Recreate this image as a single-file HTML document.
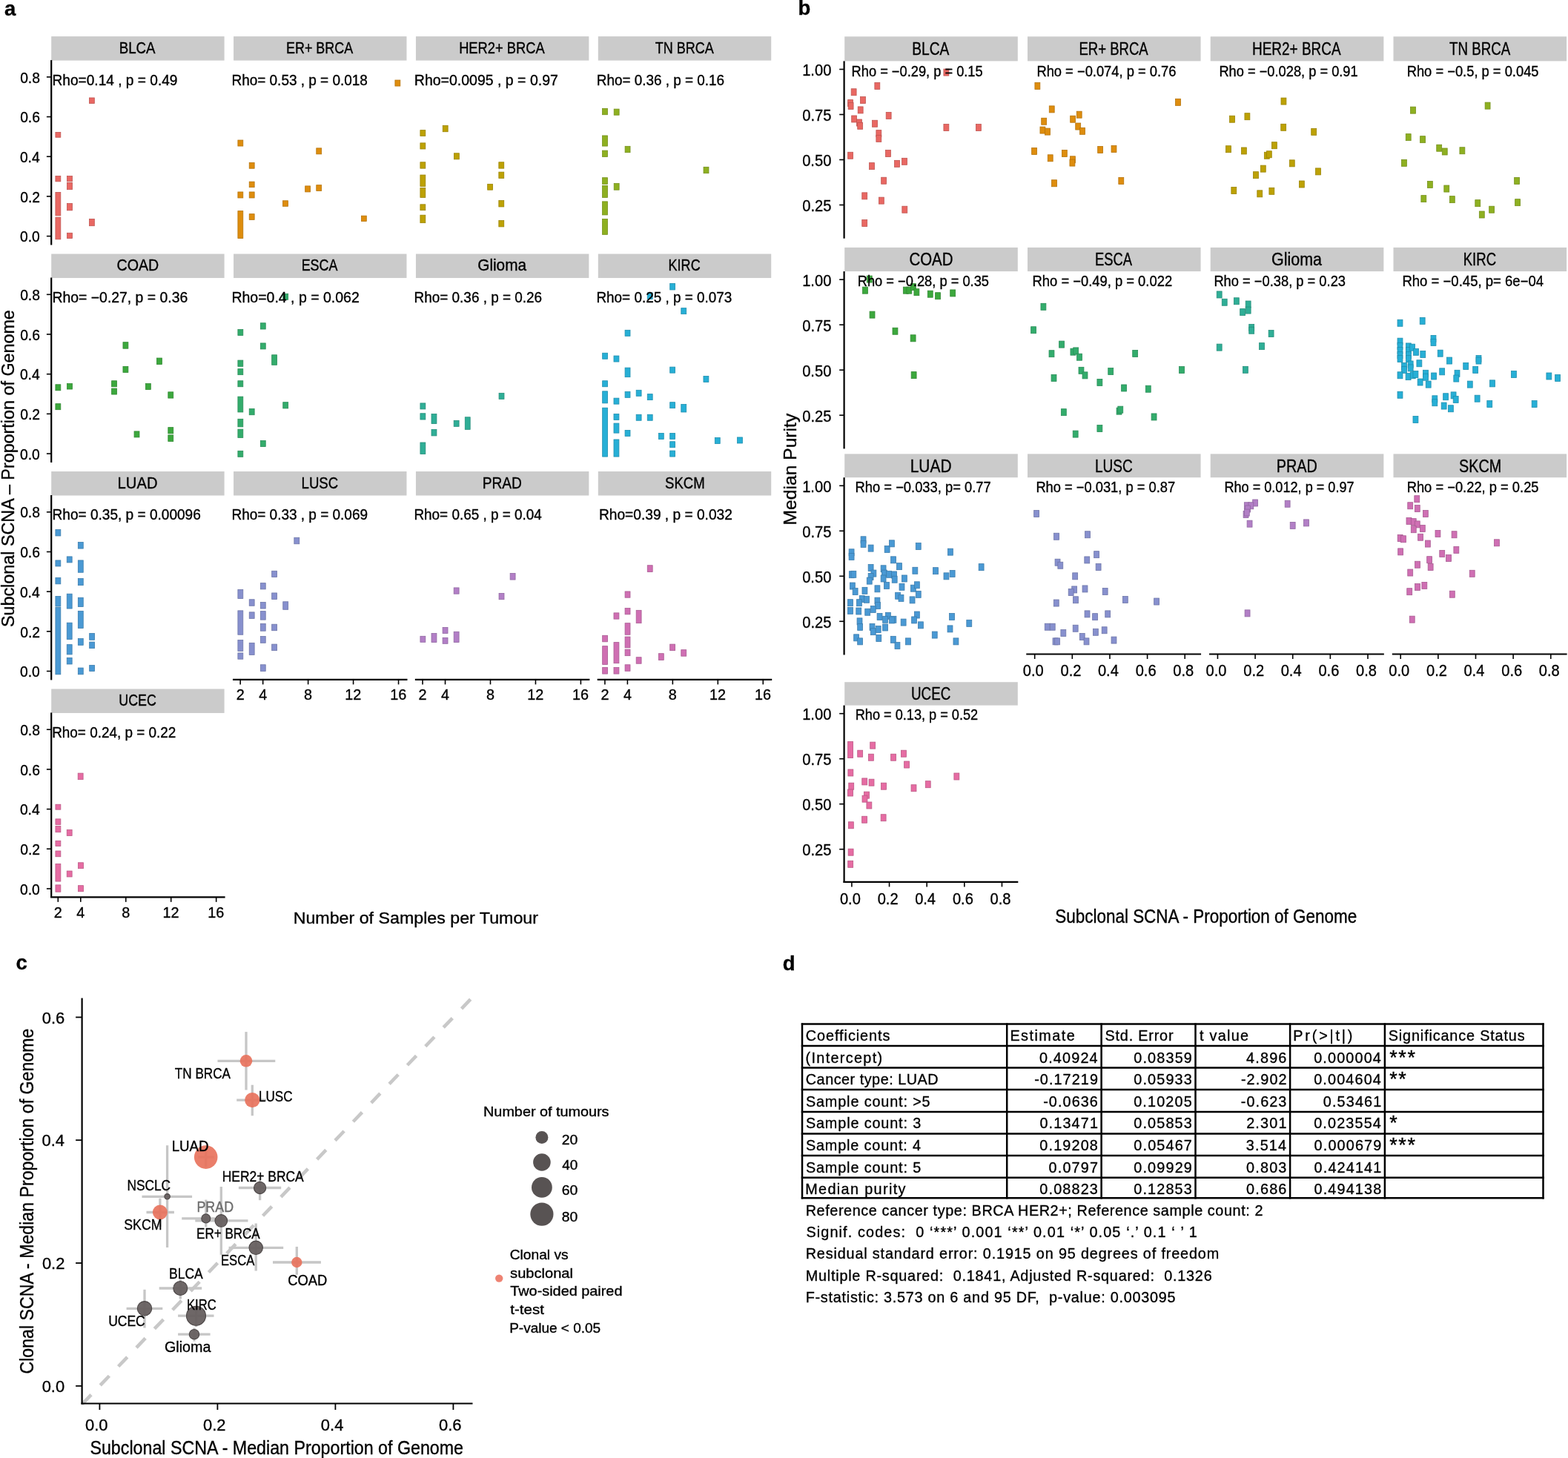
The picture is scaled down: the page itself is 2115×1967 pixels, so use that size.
<!DOCTYPE html>
<html><head><meta charset="utf-8"><title>Figure</title>
<style>
html,body{margin:0;padding:0;background:#fff;}
svg{display:block;}
text{font-family:'Liberation Sans', Arial, sans-serif;stroke:#000;stroke-width:0.35px;}
text[fill]{stroke:#6E6E6E;}
</style></head>
<body>
<svg width="2115" height="1967" viewBox="0 0 2115 1967" style="font-family:'Liberation Sans', Arial, sans-serif">
<rect x="0" y="0" width="2115" height="1967" fill="#fff"/>
<text x="5.99" y="20.80" font-size="27.5" font-weight="bold">a</text>
<text x="1076.39" y="20.10" font-size="27.5" font-weight="bold">b</text>
<text x="21.53" y="1307.70" font-size="27.5" font-weight="bold">c</text>
<text x="1055.77" y="1308.90" font-size="27.5" font-weight="bold">d</text>
<rect x="69.20" y="49.10" width="233.40" height="32.50" fill="#CBCBCB"/>
<text x="160.72" y="72.00" font-size="21.4" textLength="48.87" lengthAdjust="spacingAndGlyphs">BLCA</text>
<rect x="74.91" y="178.49" width="6.90" height="6.75" fill="#E96863" stroke="#BF5551" stroke-width="0.8"/>
<rect x="74.91" y="237.59" width="6.90" height="7.25" fill="#E96863" stroke="#BF5551" stroke-width="0.8"/>
<rect x="74.91" y="259.47" width="6.90" height="31.39" fill="#E96863" stroke="#BF5551" stroke-width="0.8"/>
<rect x="74.91" y="293.18" width="6.90" height="29.63" fill="#E96863" stroke="#BF5551" stroke-width="0.8"/>
<rect x="90.50" y="237.59" width="6.90" height="7.25" fill="#E96863" stroke="#BF5551" stroke-width="0.8"/>
<rect x="90.50" y="246.40" width="6.90" height="9.26" fill="#E96863" stroke="#BF5551" stroke-width="0.8"/>
<rect x="90.50" y="274.56" width="6.90" height="9.26" fill="#E96863" stroke="#BF5551" stroke-width="0.8"/>
<rect x="90.50" y="314.30" width="6.90" height="7.25" fill="#E96863" stroke="#BF5551" stroke-width="0.8"/>
<rect x="120.43" y="131.96" width="6.90" height="7.50" fill="#E96863" stroke="#BF5551" stroke-width="0.8"/>
<rect x="120.43" y="295.44" width="6.90" height="9.26" fill="#E96863" stroke="#BF5551" stroke-width="0.8"/>
<text x="70.53" y="114.50" font-size="19.4" textLength="168.97" lengthAdjust="spacingAndGlyphs">Rho=0.14 , p = 0.49</text>
<line x1="69.20" y1="81.10" x2="69.20" y2="330.50" stroke="#000" stroke-width="2.2"/>
<line x1="62.90" y1="318.60" x2="69.20" y2="318.60" stroke="#000" stroke-width="1.6"/>
<text x="27.06" y="326.30" font-size="20.5" textLength="26.79" lengthAdjust="spacingAndGlyphs">0.0</text>
<line x1="62.90" y1="264.92" x2="69.20" y2="264.92" stroke="#000" stroke-width="1.6"/>
<text x="27.28" y="272.62" font-size="20.5" textLength="26.79" lengthAdjust="spacingAndGlyphs">0.2</text>
<line x1="62.90" y1="211.24" x2="69.20" y2="211.24" stroke="#000" stroke-width="1.6"/>
<text x="26.88" y="218.94" font-size="20.5" textLength="26.79" lengthAdjust="spacingAndGlyphs">0.4</text>
<line x1="62.90" y1="157.56" x2="69.20" y2="157.56" stroke="#000" stroke-width="1.6"/>
<text x="27.16" y="165.26" font-size="20.5" textLength="26.79" lengthAdjust="spacingAndGlyphs">0.6</text>
<line x1="62.90" y1="103.88" x2="69.20" y2="103.88" stroke="#000" stroke-width="1.6"/>
<text x="27.15" y="111.58" font-size="20.5" textLength="26.79" lengthAdjust="spacingAndGlyphs">0.8</text>
<rect x="315.07" y="49.10" width="233.40" height="32.50" fill="#CBCBCB"/>
<text x="386.00" y="72.00" font-size="21.4" textLength="90.10" lengthAdjust="spacingAndGlyphs">ER+ BRCA</text>
<rect x="320.89" y="189.05" width="6.90" height="8.00" fill="#DE8D0E" stroke="#B6730B" stroke-width="0.8"/>
<rect x="320.89" y="258.97" width="6.90" height="8.00" fill="#DE8D0E" stroke="#B6730B" stroke-width="0.8"/>
<rect x="320.89" y="284.63" width="6.90" height="36.93" fill="#DE8D0E" stroke="#B6730B" stroke-width="0.8"/>
<rect x="336.23" y="219.48" width="6.90" height="7.75" fill="#DE8D0E" stroke="#B6730B" stroke-width="0.8"/>
<rect x="336.23" y="245.14" width="6.90" height="7.50" fill="#DE8D0E" stroke="#B6730B" stroke-width="0.8"/>
<rect x="336.23" y="258.97" width="6.90" height="8.00" fill="#DE8D0E" stroke="#B6730B" stroke-width="0.8"/>
<rect x="336.23" y="288.65" width="6.90" height="7.75" fill="#DE8D0E" stroke="#B6730B" stroke-width="0.8"/>
<rect x="381.50" y="270.79" width="6.90" height="7.50" fill="#DE8D0E" stroke="#B6730B" stroke-width="0.8"/>
<rect x="411.68" y="250.92" width="6.90" height="8.00" fill="#DE8D0E" stroke="#B6730B" stroke-width="0.8"/>
<rect x="426.77" y="199.87" width="6.90" height="8.00" fill="#DE8D0E" stroke="#B6730B" stroke-width="0.8"/>
<rect x="426.77" y="249.67" width="6.90" height="7.75" fill="#DE8D0E" stroke="#B6730B" stroke-width="0.8"/>
<rect x="487.39" y="291.16" width="6.90" height="7.25" fill="#DE8D0E" stroke="#B6730B" stroke-width="0.8"/>
<rect x="532.91" y="108.07" width="6.90" height="8.00" fill="#DE8D0E" stroke="#B6730B" stroke-width="0.8"/>
<text x="312.44" y="114.50" font-size="19.4" textLength="183.48" lengthAdjust="spacingAndGlyphs">Rho= 0.53 , p = 0.018</text>
<rect x="560.94" y="49.10" width="233.40" height="32.50" fill="#CBCBCB"/>
<text x="619.14" y="72.00" font-size="21.4" textLength="115.54" lengthAdjust="spacingAndGlyphs">HER2+ BRCA</text>
<rect x="566.89" y="175.63" width="6.90" height="7.83" fill="#BDA105" stroke="#9A8404" stroke-width="0.8"/>
<rect x="566.89" y="192.90" width="6.90" height="8.09" fill="#BDA105" stroke="#9A8404" stroke-width="0.8"/>
<rect x="566.89" y="218.79" width="6.90" height="8.36" fill="#BDA105" stroke="#9A8404" stroke-width="0.8"/>
<rect x="566.89" y="236.06" width="6.90" height="15.42" fill="#BDA105" stroke="#9A8404" stroke-width="0.8"/>
<rect x="566.89" y="253.58" width="6.90" height="12.80" fill="#BDA105" stroke="#9A8404" stroke-width="0.8"/>
<rect x="566.89" y="275.82" width="6.90" height="7.83" fill="#BDA105" stroke="#9A8404" stroke-width="0.8"/>
<rect x="566.89" y="290.20" width="6.90" height="10.45" fill="#BDA105" stroke="#9A8404" stroke-width="0.8"/>
<rect x="597.24" y="169.36" width="6.90" height="8.36" fill="#BDA105" stroke="#9A8404" stroke-width="0.8"/>
<rect x="612.41" y="206.76" width="6.90" height="8.09" fill="#BDA105" stroke="#9A8404" stroke-width="0.8"/>
<rect x="657.66" y="248.35" width="6.90" height="7.83" fill="#BDA105" stroke="#9A8404" stroke-width="0.8"/>
<rect x="672.83" y="218.79" width="6.90" height="8.36" fill="#BDA105" stroke="#9A8404" stroke-width="0.8"/>
<rect x="672.83" y="232.13" width="6.90" height="8.36" fill="#BDA105" stroke="#9A8404" stroke-width="0.8"/>
<rect x="672.83" y="270.59" width="6.90" height="8.36" fill="#BDA105" stroke="#9A8404" stroke-width="0.8"/>
<rect x="672.83" y="297.53" width="6.90" height="8.36" fill="#BDA105" stroke="#9A8404" stroke-width="0.8"/>
<text x="558.84" y="114.50" font-size="19.4" textLength="194.01" lengthAdjust="spacingAndGlyphs">Rho=0.0095  , p = 0.97</text>
<rect x="806.81" y="49.10" width="233.40" height="32.50" fill="#CBCBCB"/>
<text x="883.76" y="72.00" font-size="21.4" textLength="79.14" lengthAdjust="spacingAndGlyphs">TN BRCA</text>
<rect x="812.51" y="146.34" width="6.90" height="8.36" fill="#8EB021" stroke="#74901B" stroke-width="0.8"/>
<rect x="812.51" y="182.96" width="6.90" height="14.11" fill="#8EB021" stroke="#74901B" stroke-width="0.8"/>
<rect x="812.51" y="203.10" width="6.90" height="8.36" fill="#8EB021" stroke="#74901B" stroke-width="0.8"/>
<rect x="812.51" y="239.72" width="6.90" height="8.62" fill="#8EB021" stroke="#74901B" stroke-width="0.8"/>
<rect x="812.51" y="250.44" width="6.90" height="15.94" fill="#8EB021" stroke="#74901B" stroke-width="0.8"/>
<rect x="812.51" y="271.89" width="6.90" height="18.03" fill="#8EB021" stroke="#74901B" stroke-width="0.8"/>
<rect x="812.51" y="295.44" width="6.90" height="20.91" fill="#8EB021" stroke="#74901B" stroke-width="0.8"/>
<rect x="828.21" y="147.12" width="6.90" height="8.09" fill="#8EB021" stroke="#74901B" stroke-width="0.8"/>
<rect x="828.21" y="247.57" width="6.90" height="8.62" fill="#8EB021" stroke="#74901B" stroke-width="0.8"/>
<rect x="843.12" y="197.34" width="6.90" height="8.36" fill="#8EB021" stroke="#74901B" stroke-width="0.8"/>
<rect x="949.05" y="225.33" width="6.90" height="8.36" fill="#8EB021" stroke="#74901B" stroke-width="0.8"/>
<text x="804.75" y="114.50" font-size="19.4" textLength="172.38" lengthAdjust="spacingAndGlyphs">Rho= 0.36 , p = 0.16</text>
<rect x="69.20" y="342.55" width="233.40" height="32.50" fill="#CBCBCB"/>
<text x="157.50" y="365.45" font-size="21.4" textLength="56.74" lengthAdjust="spacingAndGlyphs">COAD</text>
<rect x="74.91" y="518.78" width="6.90" height="8.00" fill="#3CA83D" stroke="#318932" stroke-width="0.8"/>
<rect x="74.91" y="544.68" width="6.90" height="8.00" fill="#3CA83D" stroke="#318932" stroke-width="0.8"/>
<rect x="90.50" y="517.52" width="6.90" height="7.50" fill="#3CA83D" stroke="#318932" stroke-width="0.8"/>
<rect x="150.61" y="513.75" width="6.90" height="8.00" fill="#3CA83D" stroke="#318932" stroke-width="0.8"/>
<rect x="150.61" y="524.06" width="6.90" height="8.00" fill="#3CA83D" stroke="#318932" stroke-width="0.8"/>
<rect x="165.96" y="461.69" width="6.90" height="8.51" fill="#3CA83D" stroke="#318932" stroke-width="0.8"/>
<rect x="165.96" y="494.38" width="6.90" height="8.00" fill="#3CA83D" stroke="#318932" stroke-width="0.8"/>
<rect x="181.05" y="581.91" width="6.90" height="8.00" fill="#3CA83D" stroke="#318932" stroke-width="0.8"/>
<rect x="196.39" y="517.52" width="6.90" height="8.00" fill="#3CA83D" stroke="#318932" stroke-width="0.8"/>
<rect x="211.48" y="483.06" width="6.90" height="8.51" fill="#3CA83D" stroke="#318932" stroke-width="0.8"/>
<rect x="226.82" y="528.84" width="6.90" height="8.25" fill="#3CA83D" stroke="#318932" stroke-width="0.8"/>
<rect x="226.82" y="576.63" width="6.90" height="8.25" fill="#3CA83D" stroke="#318932" stroke-width="0.8"/>
<rect x="226.82" y="586.94" width="6.90" height="8.51" fill="#3CA83D" stroke="#318932" stroke-width="0.8"/>
<text x="70.51" y="407.95" font-size="19.4">Rho= −0.27, p = 0.36</text>
<line x1="69.20" y1="374.55" x2="69.20" y2="623.95" stroke="#000" stroke-width="2.2"/>
<line x1="62.90" y1="612.05" x2="69.20" y2="612.05" stroke="#000" stroke-width="1.6"/>
<text x="27.06" y="619.75" font-size="20.5" textLength="26.79" lengthAdjust="spacingAndGlyphs">0.0</text>
<line x1="62.90" y1="558.37" x2="69.20" y2="558.37" stroke="#000" stroke-width="1.6"/>
<text x="27.28" y="566.07" font-size="20.5" textLength="26.79" lengthAdjust="spacingAndGlyphs">0.2</text>
<line x1="62.90" y1="504.69" x2="69.20" y2="504.69" stroke="#000" stroke-width="1.6"/>
<text x="26.88" y="512.39" font-size="20.5" textLength="26.79" lengthAdjust="spacingAndGlyphs">0.4</text>
<line x1="62.90" y1="451.01" x2="69.20" y2="451.01" stroke="#000" stroke-width="1.6"/>
<text x="27.16" y="458.71" font-size="20.5" textLength="26.79" lengthAdjust="spacingAndGlyphs">0.6</text>
<line x1="62.90" y1="397.33" x2="69.20" y2="397.33" stroke="#000" stroke-width="1.6"/>
<text x="27.15" y="405.03" font-size="20.5" textLength="26.79" lengthAdjust="spacingAndGlyphs">0.8</text>
<rect x="315.07" y="342.55" width="233.40" height="32.50" fill="#CBCBCB"/>
<text x="406.65" y="365.45" font-size="21.4" textLength="48.81" lengthAdjust="spacingAndGlyphs">ESCA</text>
<rect x="320.89" y="444.58" width="6.90" height="8.00" fill="#33AC6C" stroke="#298D58" stroke-width="0.8"/>
<rect x="320.89" y="486.08" width="6.90" height="8.25" fill="#33AC6C" stroke="#298D58" stroke-width="0.8"/>
<rect x="320.89" y="497.65" width="6.90" height="8.00" fill="#33AC6C" stroke="#298D58" stroke-width="0.8"/>
<rect x="320.89" y="513.75" width="6.90" height="8.00" fill="#33AC6C" stroke="#298D58" stroke-width="0.8"/>
<rect x="320.89" y="535.13" width="6.90" height="20.83" fill="#33AC6C" stroke="#298D58" stroke-width="0.8"/>
<rect x="320.89" y="565.31" width="6.90" height="10.52" fill="#33AC6C" stroke="#298D58" stroke-width="0.8"/>
<rect x="320.89" y="579.14" width="6.90" height="11.27" fill="#33AC6C" stroke="#298D58" stroke-width="0.8"/>
<rect x="320.89" y="608.32" width="6.90" height="8.00" fill="#33AC6C" stroke="#298D58" stroke-width="0.8"/>
<rect x="336.23" y="551.47" width="6.90" height="8.25" fill="#33AC6C" stroke="#298D58" stroke-width="0.8"/>
<rect x="351.32" y="435.78" width="6.90" height="8.25" fill="#33AC6C" stroke="#298D58" stroke-width="0.8"/>
<rect x="351.32" y="462.94" width="6.90" height="8.00" fill="#33AC6C" stroke="#298D58" stroke-width="0.8"/>
<rect x="351.32" y="594.48" width="6.90" height="8.00" fill="#33AC6C" stroke="#298D58" stroke-width="0.8"/>
<rect x="366.66" y="478.79" width="6.90" height="13.54" fill="#33AC6C" stroke="#298D58" stroke-width="0.8"/>
<rect x="381.75" y="542.67" width="6.90" height="8.25" fill="#33AC6C" stroke="#298D58" stroke-width="0.8"/>
<rect x="381.75" y="396.29" width="6.90" height="8.00" fill="#33AC6C" stroke="#298D58" stroke-width="0.8"/>
<text x="312.40" y="407.95" font-size="19.4" textLength="172.38" lengthAdjust="spacingAndGlyphs">Rho=0.4 , p = 0.062</text>
<rect x="560.94" y="342.55" width="233.40" height="32.50" fill="#CBCBCB"/>
<text x="644.25" y="365.45" font-size="21.4" textLength="65.74" lengthAdjust="spacingAndGlyphs">Glioma</text>
<rect x="566.92" y="543.93" width="6.90" height="8.00" fill="#2FAE96" stroke="#268E7A" stroke-width="0.8"/>
<rect x="566.92" y="557.76" width="6.90" height="8.25" fill="#2FAE96" stroke="#268E7A" stroke-width="0.8"/>
<rect x="566.92" y="597.00" width="6.90" height="15.55" fill="#2FAE96" stroke="#268E7A" stroke-width="0.8"/>
<rect x="582.01" y="558.52" width="6.90" height="13.03" fill="#2FAE96" stroke="#268E7A" stroke-width="0.8"/>
<rect x="582.01" y="579.39" width="6.90" height="8.51" fill="#2FAE96" stroke="#268E7A" stroke-width="0.8"/>
<rect x="612.19" y="567.32" width="6.90" height="8.00" fill="#2FAE96" stroke="#268E7A" stroke-width="0.8"/>
<rect x="627.28" y="562.79" width="6.90" height="16.55" fill="#2FAE96" stroke="#268E7A" stroke-width="0.8"/>
<rect x="673.06" y="530.35" width="6.90" height="8.00" fill="#2FAE96" stroke="#268E7A" stroke-width="0.8"/>
<text x="558.55" y="407.95" font-size="19.4" textLength="172.58" lengthAdjust="spacingAndGlyphs">Rho= 0.36 , p = 0.26</text>
<rect x="806.81" y="342.55" width="233.40" height="32.50" fill="#CBCBCB"/>
<text x="901.58" y="365.45" font-size="21.4" textLength="43.07" lengthAdjust="spacingAndGlyphs">KIRC</text>
<rect x="812.65" y="476.27" width="6.90" height="8.00" fill="#27AFD6" stroke="#1F8FAF" stroke-width="0.8"/>
<rect x="812.65" y="513.75" width="6.90" height="8.00" fill="#27AFD6" stroke="#1F8FAF" stroke-width="0.8"/>
<rect x="812.65" y="527.83" width="6.90" height="16.05" fill="#27AFD6" stroke="#1F8FAF" stroke-width="0.8"/>
<rect x="812.65" y="550.22" width="6.90" height="65.85" fill="#27AFD6" stroke="#1F8FAF" stroke-width="0.8"/>
<rect x="827.99" y="480.05" width="6.90" height="8.00" fill="#27AFD6" stroke="#1F8FAF" stroke-width="0.8"/>
<rect x="827.99" y="537.14" width="6.90" height="8.00" fill="#27AFD6" stroke="#1F8FAF" stroke-width="0.8"/>
<rect x="827.99" y="558.52" width="6.90" height="8.00" fill="#27AFD6" stroke="#1F8FAF" stroke-width="0.8"/>
<rect x="827.99" y="571.09" width="6.90" height="13.03" fill="#27AFD6" stroke="#1F8FAF" stroke-width="0.8"/>
<rect x="827.99" y="592.97" width="6.90" height="23.09" fill="#27AFD6" stroke="#1F8FAF" stroke-width="0.8"/>
<rect x="843.08" y="445.34" width="6.90" height="8.00" fill="#27AFD6" stroke="#1F8FAF" stroke-width="0.8"/>
<rect x="843.08" y="496.14" width="6.90" height="12.53" fill="#27AFD6" stroke="#1F8FAF" stroke-width="0.8"/>
<rect x="843.08" y="528.34" width="6.90" height="8.00" fill="#27AFD6" stroke="#1F8FAF" stroke-width="0.8"/>
<rect x="843.08" y="580.40" width="6.90" height="8.00" fill="#27AFD6" stroke="#1F8FAF" stroke-width="0.8"/>
<rect x="858.17" y="526.32" width="6.90" height="8.00" fill="#27AFD6" stroke="#1F8FAF" stroke-width="0.8"/>
<rect x="858.17" y="559.27" width="6.90" height="8.00" fill="#27AFD6" stroke="#1F8FAF" stroke-width="0.8"/>
<rect x="873.26" y="395.04" width="6.90" height="8.51" fill="#27AFD6" stroke="#1F8FAF" stroke-width="0.8"/>
<rect x="873.26" y="531.61" width="6.90" height="8.00" fill="#27AFD6" stroke="#1F8FAF" stroke-width="0.8"/>
<rect x="873.26" y="559.27" width="6.90" height="8.00" fill="#27AFD6" stroke="#1F8FAF" stroke-width="0.8"/>
<rect x="888.35" y="584.42" width="6.90" height="8.00" fill="#27AFD6" stroke="#1F8FAF" stroke-width="0.8"/>
<rect x="903.69" y="382.46" width="6.90" height="8.51" fill="#27AFD6" stroke="#1F8FAF" stroke-width="0.8"/>
<rect x="903.69" y="495.14" width="6.90" height="8.00" fill="#27AFD6" stroke="#1F8FAF" stroke-width="0.8"/>
<rect x="903.69" y="542.67" width="6.90" height="8.00" fill="#27AFD6" stroke="#1F8FAF" stroke-width="0.8"/>
<rect x="903.69" y="584.42" width="6.90" height="8.00" fill="#27AFD6" stroke="#1F8FAF" stroke-width="0.8"/>
<rect x="903.69" y="595.74" width="6.90" height="8.00" fill="#27AFD6" stroke="#1F8FAF" stroke-width="0.8"/>
<rect x="903.69" y="608.06" width="6.90" height="8.00" fill="#27AFD6" stroke="#1F8FAF" stroke-width="0.8"/>
<rect x="918.78" y="415.66" width="6.90" height="8.00" fill="#27AFD6" stroke="#1F8FAF" stroke-width="0.8"/>
<rect x="918.78" y="545.44" width="6.90" height="10.52" fill="#27AFD6" stroke="#1F8FAF" stroke-width="0.8"/>
<rect x="948.96" y="507.46" width="6.90" height="8.00" fill="#27AFD6" stroke="#1F8FAF" stroke-width="0.8"/>
<rect x="964.31" y="590.46" width="6.90" height="8.00" fill="#27AFD6" stroke="#1F8FAF" stroke-width="0.8"/>
<rect x="994.49" y="589.96" width="6.90" height="8.00" fill="#27AFD6" stroke="#1F8FAF" stroke-width="0.8"/>
<text x="804.45" y="407.95" font-size="19.4" textLength="182.78" lengthAdjust="spacingAndGlyphs">Rho= 0.25 , p = 0.073</text>
<rect x="69.20" y="636.00" width="233.40" height="32.50" fill="#CBCBCB"/>
<text x="158.59" y="658.90" font-size="21.4" textLength="53.93" lengthAdjust="spacingAndGlyphs">LUAD</text>
<rect x="74.91" y="714.44" width="6.90" height="8.51" fill="#4A99D4" stroke="#3C7DAD" stroke-width="0.8"/>
<rect x="74.91" y="755.94" width="6.90" height="8.00" fill="#4A99D4" stroke="#3C7DAD" stroke-width="0.8"/>
<rect x="74.91" y="779.33" width="6.90" height="8.51" fill="#4A99D4" stroke="#3C7DAD" stroke-width="0.8"/>
<rect x="74.91" y="804.48" width="6.90" height="13.54" fill="#4A99D4" stroke="#3C7DAD" stroke-width="0.8"/>
<rect x="74.91" y="819.32" width="6.90" height="90.50" fill="#4A99D4" stroke="#3C7DAD" stroke-width="0.8"/>
<rect x="90.25" y="750.91" width="6.90" height="8.00" fill="#4A99D4" stroke="#3C7DAD" stroke-width="0.8"/>
<rect x="90.25" y="801.21" width="6.90" height="19.82" fill="#4A99D4" stroke="#3C7DAD" stroke-width="0.8"/>
<rect x="90.25" y="840.20" width="6.90" height="22.34" fill="#4A99D4" stroke="#3C7DAD" stroke-width="0.8"/>
<rect x="90.25" y="869.63" width="6.90" height="13.28" fill="#4A99D4" stroke="#3C7DAD" stroke-width="0.8"/>
<rect x="90.25" y="887.48" width="6.90" height="8.51" fill="#4A99D4" stroke="#3C7DAD" stroke-width="0.8"/>
<rect x="105.34" y="731.55" width="6.90" height="8.51" fill="#4A99D4" stroke="#3C7DAD" stroke-width="0.8"/>
<rect x="105.34" y="755.94" width="6.90" height="16.30" fill="#4A99D4" stroke="#3C7DAD" stroke-width="0.8"/>
<rect x="105.34" y="780.59" width="6.90" height="9.01" fill="#4A99D4" stroke="#3C7DAD" stroke-width="0.8"/>
<rect x="105.34" y="806.25" width="6.90" height="12.28" fill="#4A99D4" stroke="#3C7DAD" stroke-width="0.8"/>
<rect x="105.34" y="824.35" width="6.90" height="23.09" fill="#4A99D4" stroke="#3C7DAD" stroke-width="0.8"/>
<rect x="105.34" y="861.58" width="6.90" height="8.76" fill="#4A99D4" stroke="#3C7DAD" stroke-width="0.8"/>
<rect x="105.34" y="901.06" width="6.90" height="8.76" fill="#4A99D4" stroke="#3C7DAD" stroke-width="0.8"/>
<rect x="120.68" y="854.53" width="6.90" height="8.76" fill="#4A99D4" stroke="#3C7DAD" stroke-width="0.8"/>
<rect x="120.68" y="866.10" width="6.90" height="8.51" fill="#4A99D4" stroke="#3C7DAD" stroke-width="0.8"/>
<rect x="120.68" y="897.54" width="6.90" height="8.00" fill="#4A99D4" stroke="#3C7DAD" stroke-width="0.8"/>
<text x="70.54" y="701.40" font-size="19.4" textLength="200.30" lengthAdjust="spacingAndGlyphs">Rho= 0.35, p = 0.00096</text>
<line x1="69.20" y1="668.00" x2="69.20" y2="917.40" stroke="#000" stroke-width="2.2"/>
<line x1="62.90" y1="905.50" x2="69.20" y2="905.50" stroke="#000" stroke-width="1.6"/>
<text x="27.06" y="913.20" font-size="20.5" textLength="26.79" lengthAdjust="spacingAndGlyphs">0.0</text>
<line x1="62.90" y1="851.82" x2="69.20" y2="851.82" stroke="#000" stroke-width="1.6"/>
<text x="27.28" y="859.52" font-size="20.5" textLength="26.79" lengthAdjust="spacingAndGlyphs">0.2</text>
<line x1="62.90" y1="798.14" x2="69.20" y2="798.14" stroke="#000" stroke-width="1.6"/>
<text x="26.88" y="805.84" font-size="20.5" textLength="26.79" lengthAdjust="spacingAndGlyphs">0.4</text>
<line x1="62.90" y1="744.46" x2="69.20" y2="744.46" stroke="#000" stroke-width="1.6"/>
<text x="27.16" y="752.16" font-size="20.5" textLength="26.79" lengthAdjust="spacingAndGlyphs">0.6</text>
<line x1="62.90" y1="690.78" x2="69.20" y2="690.78" stroke="#000" stroke-width="1.6"/>
<text x="27.15" y="698.48" font-size="20.5" textLength="26.79" lengthAdjust="spacingAndGlyphs">0.8</text>
<rect x="315.07" y="636.00" width="233.40" height="32.50" fill="#CBCBCB"/>
<text x="406.60" y="658.90" font-size="21.4" textLength="49.53" lengthAdjust="spacingAndGlyphs">LUSC</text>
<rect x="320.89" y="795.43" width="6.90" height="12.03" fill="#8790CE" stroke="#6E76A8" stroke-width="0.8"/>
<rect x="320.89" y="823.85" width="6.90" height="32.40" fill="#8790CE" stroke="#6E76A8" stroke-width="0.8"/>
<rect x="320.89" y="863.59" width="6.90" height="14.79" fill="#8790CE" stroke="#6E76A8" stroke-width="0.8"/>
<rect x="320.89" y="880.94" width="6.90" height="8.25" fill="#8790CE" stroke="#6E76A8" stroke-width="0.8"/>
<rect x="336.23" y="808.76" width="6.90" height="8.51" fill="#8790CE" stroke="#6E76A8" stroke-width="0.8"/>
<rect x="336.23" y="825.86" width="6.90" height="8.51" fill="#8790CE" stroke="#6E76A8" stroke-width="0.8"/>
<rect x="336.23" y="867.36" width="6.90" height="16.05" fill="#8790CE" stroke="#6E76A8" stroke-width="0.8"/>
<rect x="351.32" y="786.63" width="6.90" height="8.25" fill="#8790CE" stroke="#6E76A8" stroke-width="0.8"/>
<rect x="351.32" y="812.53" width="6.90" height="8.51" fill="#8790CE" stroke="#6E76A8" stroke-width="0.8"/>
<rect x="351.32" y="824.61" width="6.90" height="11.52" fill="#8790CE" stroke="#6E76A8" stroke-width="0.8"/>
<rect x="351.32" y="841.46" width="6.90" height="9.76" fill="#8790CE" stroke="#6E76A8" stroke-width="0.8"/>
<rect x="351.32" y="858.56" width="6.90" height="8.76" fill="#8790CE" stroke="#6E76A8" stroke-width="0.8"/>
<rect x="351.32" y="896.79" width="6.90" height="8.76" fill="#8790CE" stroke="#6E76A8" stroke-width="0.8"/>
<rect x="366.66" y="770.28" width="6.90" height="8.25" fill="#8790CE" stroke="#6E76A8" stroke-width="0.8"/>
<rect x="366.66" y="799.96" width="6.90" height="8.51" fill="#8790CE" stroke="#6E76A8" stroke-width="0.8"/>
<rect x="366.66" y="842.21" width="6.90" height="8.51" fill="#8790CE" stroke="#6E76A8" stroke-width="0.8"/>
<rect x="366.66" y="869.12" width="6.90" height="8.51" fill="#8790CE" stroke="#6E76A8" stroke-width="0.8"/>
<rect x="381.75" y="811.78" width="6.90" height="10.52" fill="#8790CE" stroke="#6E76A8" stroke-width="0.8"/>
<rect x="396.84" y="725.26" width="6.90" height="8.51" fill="#8790CE" stroke="#6E76A8" stroke-width="0.8"/>
<text x="312.44" y="701.40" font-size="19.4" textLength="183.56" lengthAdjust="spacingAndGlyphs">Rho= 0.33 , p = 0.069</text>
<line x1="313.97" y1="916.90" x2="549.47" y2="916.90" stroke="#000" stroke-width="2.2"/>
<line x1="324.17" y1="916.90" x2="324.17" y2="923.40" stroke="#000" stroke-width="1.6"/>
<text x="318.67" y="944.30" font-size="20.2" textLength="11.01" lengthAdjust="spacingAndGlyphs">2</text>
<line x1="354.65" y1="916.90" x2="354.65" y2="923.40" stroke="#000" stroke-width="1.6"/>
<text x="349.21" y="944.30" font-size="20.2" textLength="11.01" lengthAdjust="spacingAndGlyphs">4</text>
<line x1="415.61" y1="916.90" x2="415.61" y2="923.40" stroke="#000" stroke-width="1.6"/>
<text x="410.11" y="944.30" font-size="20.2" textLength="11.01" lengthAdjust="spacingAndGlyphs">8</text>
<line x1="476.57" y1="916.90" x2="476.57" y2="923.40" stroke="#000" stroke-width="1.6"/>
<text x="465.30" y="944.30" font-size="20.2" textLength="22.02" lengthAdjust="spacingAndGlyphs">12</text>
<line x1="537.53" y1="916.90" x2="537.53" y2="923.40" stroke="#000" stroke-width="1.6"/>
<text x="526.20" y="944.30" font-size="20.2" textLength="22.02" lengthAdjust="spacingAndGlyphs">16</text>
<rect x="560.94" y="636.00" width="233.40" height="32.50" fill="#CBCBCB"/>
<text x="650.67" y="658.90" font-size="21.4" textLength="53.29" lengthAdjust="spacingAndGlyphs">PRAD</text>
<rect x="566.92" y="858.31" width="6.90" height="8.00" fill="#B27FC6" stroke="#9168A2" stroke-width="0.8"/>
<rect x="582.01" y="854.53" width="6.90" height="12.03" fill="#B27FC6" stroke="#9168A2" stroke-width="0.8"/>
<rect x="597.10" y="846.49" width="6.90" height="8.00" fill="#B27FC6" stroke="#9168A2" stroke-width="0.8"/>
<rect x="597.10" y="860.32" width="6.90" height="8.00" fill="#B27FC6" stroke="#9168A2" stroke-width="0.8"/>
<rect x="612.19" y="792.92" width="6.90" height="8.25" fill="#B27FC6" stroke="#9168A2" stroke-width="0.8"/>
<rect x="612.19" y="852.27" width="6.90" height="14.29" fill="#B27FC6" stroke="#9168A2" stroke-width="0.8"/>
<rect x="673.06" y="800.46" width="6.90" height="8.25" fill="#B27FC6" stroke="#9168A2" stroke-width="0.8"/>
<rect x="688.15" y="773.55" width="6.90" height="8.51" fill="#B27FC6" stroke="#9168A2" stroke-width="0.8"/>
<text x="558.45" y="701.40" font-size="19.4" textLength="172.40" lengthAdjust="spacingAndGlyphs">Rho= 0.65 , p = 0.04</text>
<line x1="559.84" y1="916.90" x2="795.34" y2="916.90" stroke="#000" stroke-width="2.2"/>
<line x1="570.04" y1="916.90" x2="570.04" y2="923.40" stroke="#000" stroke-width="1.6"/>
<text x="564.54" y="944.30" font-size="20.2" textLength="11.01" lengthAdjust="spacingAndGlyphs">2</text>
<line x1="600.52" y1="916.90" x2="600.52" y2="923.40" stroke="#000" stroke-width="1.6"/>
<text x="595.08" y="944.30" font-size="20.2" textLength="11.01" lengthAdjust="spacingAndGlyphs">4</text>
<line x1="661.48" y1="916.90" x2="661.48" y2="923.40" stroke="#000" stroke-width="1.6"/>
<text x="655.98" y="944.30" font-size="20.2" textLength="11.01" lengthAdjust="spacingAndGlyphs">8</text>
<line x1="722.44" y1="916.90" x2="722.44" y2="923.40" stroke="#000" stroke-width="1.6"/>
<text x="711.17" y="944.30" font-size="20.2" textLength="22.02" lengthAdjust="spacingAndGlyphs">12</text>
<line x1="783.40" y1="916.90" x2="783.40" y2="923.40" stroke="#000" stroke-width="1.6"/>
<text x="772.07" y="944.30" font-size="20.2" textLength="22.02" lengthAdjust="spacingAndGlyphs">16</text>
<rect x="806.81" y="636.00" width="233.40" height="32.50" fill="#CBCBCB"/>
<text x="897.02" y="658.90" font-size="21.4" textLength="53.67" lengthAdjust="spacingAndGlyphs">SKCM</text>
<rect x="812.65" y="857.30" width="6.90" height="8.51" fill="#CF6FB3" stroke="#A95B92" stroke-width="0.8"/>
<rect x="812.65" y="871.64" width="6.90" height="24.85" fill="#CF6FB3" stroke="#A95B92" stroke-width="0.8"/>
<rect x="812.65" y="900.56" width="6.90" height="8.51" fill="#CF6FB3" stroke="#A95B92" stroke-width="0.8"/>
<rect x="827.99" y="826.87" width="6.90" height="8.25" fill="#CF6FB3" stroke="#A95B92" stroke-width="0.8"/>
<rect x="827.99" y="866.61" width="6.90" height="28.12" fill="#CF6FB3" stroke="#A95B92" stroke-width="0.8"/>
<rect x="827.99" y="900.56" width="6.90" height="8.51" fill="#CF6FB3" stroke="#A95B92" stroke-width="0.8"/>
<rect x="843.08" y="797.95" width="6.90" height="8.25" fill="#CF6FB3" stroke="#A95B92" stroke-width="0.8"/>
<rect x="843.08" y="820.58" width="6.90" height="8.25" fill="#CF6FB3" stroke="#A95B92" stroke-width="0.8"/>
<rect x="843.08" y="840.70" width="6.90" height="15.55" fill="#CF6FB3" stroke="#A95B92" stroke-width="0.8"/>
<rect x="843.08" y="859.06" width="6.90" height="14.79" fill="#CF6FB3" stroke="#A95B92" stroke-width="0.8"/>
<rect x="843.08" y="876.16" width="6.90" height="8.51" fill="#CF6FB3" stroke="#A95B92" stroke-width="0.8"/>
<rect x="843.08" y="896.79" width="6.90" height="8.51" fill="#CF6FB3" stroke="#A95B92" stroke-width="0.8"/>
<rect x="858.17" y="823.35" width="6.90" height="17.31" fill="#CF6FB3" stroke="#A95B92" stroke-width="0.8"/>
<rect x="858.17" y="886.73" width="6.90" height="8.51" fill="#CF6FB3" stroke="#A95B92" stroke-width="0.8"/>
<rect x="873.26" y="762.73" width="6.90" height="8.76" fill="#CF6FB3" stroke="#A95B92" stroke-width="0.8"/>
<rect x="888.35" y="881.70" width="6.90" height="8.76" fill="#CF6FB3" stroke="#A95B92" stroke-width="0.8"/>
<rect x="903.69" y="869.12" width="6.90" height="8.51" fill="#CF6FB3" stroke="#A95B92" stroke-width="0.8"/>
<rect x="918.78" y="876.67" width="6.90" height="8.51" fill="#CF6FB3" stroke="#A95B92" stroke-width="0.8"/>
<text x="808.03" y="701.40" font-size="19.4" textLength="179.83" lengthAdjust="spacingAndGlyphs">Rho=0.39 , p = 0.032</text>
<line x1="805.71" y1="916.90" x2="1041.21" y2="916.90" stroke="#000" stroke-width="2.2"/>
<line x1="815.91" y1="916.90" x2="815.91" y2="923.40" stroke="#000" stroke-width="1.6"/>
<text x="810.41" y="944.30" font-size="20.2" textLength="11.01" lengthAdjust="spacingAndGlyphs">2</text>
<line x1="846.39" y1="916.90" x2="846.39" y2="923.40" stroke="#000" stroke-width="1.6"/>
<text x="840.95" y="944.30" font-size="20.2" textLength="11.01" lengthAdjust="spacingAndGlyphs">4</text>
<line x1="907.35" y1="916.90" x2="907.35" y2="923.40" stroke="#000" stroke-width="1.6"/>
<text x="901.85" y="944.30" font-size="20.2" textLength="11.01" lengthAdjust="spacingAndGlyphs">8</text>
<line x1="968.31" y1="916.90" x2="968.31" y2="923.40" stroke="#000" stroke-width="1.6"/>
<text x="957.04" y="944.30" font-size="20.2" textLength="22.02" lengthAdjust="spacingAndGlyphs">12</text>
<line x1="1029.27" y1="916.90" x2="1029.27" y2="923.40" stroke="#000" stroke-width="1.6"/>
<text x="1017.94" y="944.30" font-size="20.2" textLength="22.02" lengthAdjust="spacingAndGlyphs">16</text>
<rect x="69.20" y="929.45" width="233.40" height="32.50" fill="#CBCBCB"/>
<text x="160.27" y="952.35" font-size="21.4" textLength="50.56" lengthAdjust="spacingAndGlyphs">UCEC</text>
<rect x="74.94" y="1085.23" width="6.90" height="6.93" fill="#E66CA3" stroke="#BC5885" stroke-width="0.8"/>
<rect x="74.94" y="1104.87" width="6.90" height="7.73" fill="#E66CA3" stroke="#BC5885" stroke-width="0.8"/>
<rect x="74.94" y="1114.52" width="6.90" height="8.21" fill="#E66CA3" stroke="#BC5885" stroke-width="0.8"/>
<rect x="74.94" y="1134.32" width="6.90" height="7.25" fill="#E66CA3" stroke="#BC5885" stroke-width="0.8"/>
<rect x="74.94" y="1148.01" width="6.90" height="7.73" fill="#E66CA3" stroke="#BC5885" stroke-width="0.8"/>
<rect x="74.94" y="1165.39" width="6.90" height="23.67" fill="#E66CA3" stroke="#BC5885" stroke-width="0.8"/>
<rect x="74.94" y="1193.88" width="6.90" height="9.34" fill="#E66CA3" stroke="#BC5885" stroke-width="0.8"/>
<rect x="90.23" y="1119.51" width="6.90" height="7.89" fill="#E66CA3" stroke="#BC5885" stroke-width="0.8"/>
<rect x="90.23" y="1175.05" width="6.90" height="7.89" fill="#E66CA3" stroke="#BC5885" stroke-width="0.8"/>
<rect x="105.52" y="1163.78" width="6.90" height="7.89" fill="#E66CA3" stroke="#BC5885" stroke-width="0.8"/>
<rect x="105.52" y="1194.69" width="6.90" height="8.05" fill="#E66CA3" stroke="#BC5885" stroke-width="0.8"/>
<rect x="105.20" y="1043.14" width="6.90" height="8.51" fill="#E66CA3" stroke="#BC5885" stroke-width="0.8"/>
<text x="70.15" y="994.85" font-size="19.4" textLength="167.20" lengthAdjust="spacingAndGlyphs">Rho= 0.24, p = 0.22</text>
<line x1="69.20" y1="961.45" x2="69.20" y2="1210.85" stroke="#000" stroke-width="2.2"/>
<line x1="62.90" y1="1198.95" x2="69.20" y2="1198.95" stroke="#000" stroke-width="1.6"/>
<text x="27.06" y="1206.65" font-size="20.5" textLength="26.79" lengthAdjust="spacingAndGlyphs">0.0</text>
<line x1="62.90" y1="1145.27" x2="69.20" y2="1145.27" stroke="#000" stroke-width="1.6"/>
<text x="27.28" y="1152.97" font-size="20.5" textLength="26.79" lengthAdjust="spacingAndGlyphs">0.2</text>
<line x1="62.90" y1="1091.59" x2="69.20" y2="1091.59" stroke="#000" stroke-width="1.6"/>
<text x="26.88" y="1099.29" font-size="20.5" textLength="26.79" lengthAdjust="spacingAndGlyphs">0.4</text>
<line x1="62.90" y1="1037.91" x2="69.20" y2="1037.91" stroke="#000" stroke-width="1.6"/>
<text x="27.16" y="1045.61" font-size="20.5" textLength="26.79" lengthAdjust="spacingAndGlyphs">0.6</text>
<line x1="62.90" y1="984.23" x2="69.20" y2="984.23" stroke="#000" stroke-width="1.6"/>
<text x="27.15" y="991.93" font-size="20.5" textLength="26.79" lengthAdjust="spacingAndGlyphs">0.8</text>
<line x1="68.10" y1="1210.35" x2="303.60" y2="1210.35" stroke="#000" stroke-width="2.2"/>
<line x1="78.30" y1="1210.35" x2="78.30" y2="1216.85" stroke="#000" stroke-width="1.6"/>
<text x="72.80" y="1237.75" font-size="20.2" textLength="11.01" lengthAdjust="spacingAndGlyphs">2</text>
<line x1="108.78" y1="1210.35" x2="108.78" y2="1216.85" stroke="#000" stroke-width="1.6"/>
<text x="103.34" y="1237.75" font-size="20.2" textLength="11.01" lengthAdjust="spacingAndGlyphs">4</text>
<line x1="169.74" y1="1210.35" x2="169.74" y2="1216.85" stroke="#000" stroke-width="1.6"/>
<text x="164.24" y="1237.75" font-size="20.2" textLength="11.01" lengthAdjust="spacingAndGlyphs">8</text>
<line x1="230.70" y1="1210.35" x2="230.70" y2="1216.85" stroke="#000" stroke-width="1.6"/>
<text x="219.43" y="1237.75" font-size="20.2" textLength="22.02" lengthAdjust="spacingAndGlyphs">12</text>
<line x1="291.66" y1="1210.35" x2="291.66" y2="1216.85" stroke="#000" stroke-width="1.6"/>
<text x="280.33" y="1237.75" font-size="20.2" textLength="22.02" lengthAdjust="spacingAndGlyphs">16</text>
<text x="395.70" y="1246.30" font-size="22.8" textLength="330.28" lengthAdjust="spacingAndGlyphs">Number of Samples per Tumour</text>
<g transform="translate(18.6,845) rotate(-90)">
<text x="-1.06" y="0.00" font-size="23.5" textLength="427.89" lengthAdjust="spacingAndGlyphs">Subclonal SCNA – Proportion of Genome</text>
</g>
<rect x="1139.20" y="49.30" width="233.60" height="33.10" fill="#CBCBCB"/>
<text x="1230.18" y="73.50" font-size="23.0" textLength="50.11" lengthAdjust="spacingAndGlyphs">BLCA</text>
<rect x="1179.87" y="111.47" width="6.90" height="9.00" fill="#E96863" stroke="#BF5551" stroke-width="0.8"/>
<rect x="1148.18" y="119.77" width="6.90" height="9.00" fill="#E96863" stroke="#BF5551" stroke-width="0.8"/>
<rect x="1160.50" y="130.58" width="6.90" height="9.00" fill="#E96863" stroke="#BF5551" stroke-width="0.8"/>
<rect x="1143.65" y="134.60" width="6.90" height="9.00" fill="#E96863" stroke="#BF5551" stroke-width="0.8"/>
<rect x="1144.16" y="138.38" width="6.90" height="9.00" fill="#E96863" stroke="#BF5551" stroke-width="0.8"/>
<rect x="1157.23" y="143.91" width="6.90" height="9.00" fill="#E96863" stroke="#BF5551" stroke-width="0.8"/>
<rect x="1195.21" y="151.46" width="6.90" height="9.00" fill="#E96863" stroke="#BF5551" stroke-width="0.8"/>
<rect x="1148.68" y="155.98" width="6.90" height="9.00" fill="#E96863" stroke="#BF5551" stroke-width="0.8"/>
<rect x="1155.47" y="161.01" width="6.90" height="9.00" fill="#E96863" stroke="#BF5551" stroke-width="0.8"/>
<rect x="1156.73" y="165.29" width="6.90" height="9.00" fill="#E96863" stroke="#BF5551" stroke-width="0.8"/>
<rect x="1176.60" y="162.27" width="6.90" height="9.00" fill="#E96863" stroke="#BF5551" stroke-width="0.8"/>
<rect x="1181.88" y="175.60" width="6.90" height="9.00" fill="#E96863" stroke="#BF5551" stroke-width="0.8"/>
<rect x="1181.88" y="182.39" width="6.90" height="9.00" fill="#E96863" stroke="#BF5551" stroke-width="0.8"/>
<rect x="1272.93" y="93.11" width="6.90" height="9.00" fill="#E96863" stroke="#BF5551" stroke-width="0.8"/>
<rect x="1272.93" y="167.55" width="6.90" height="9.00" fill="#E96863" stroke="#BF5551" stroke-width="0.8"/>
<rect x="1316.44" y="167.55" width="6.90" height="9.00" fill="#E96863" stroke="#BF5551" stroke-width="0.8"/>
<rect x="1143.65" y="205.28" width="6.90" height="9.00" fill="#E96863" stroke="#BF5551" stroke-width="0.8"/>
<rect x="1194.46" y="202.51" width="6.90" height="9.00" fill="#E96863" stroke="#BF5551" stroke-width="0.8"/>
<rect x="1172.58" y="219.61" width="6.90" height="9.00" fill="#E96863" stroke="#BF5551" stroke-width="0.8"/>
<rect x="1206.53" y="216.35" width="6.90" height="9.00" fill="#E96863" stroke="#BF5551" stroke-width="0.8"/>
<rect x="1216.59" y="213.33" width="6.90" height="9.00" fill="#E96863" stroke="#BF5551" stroke-width="0.8"/>
<rect x="1188.67" y="239.23" width="6.90" height="9.00" fill="#E96863" stroke="#BF5551" stroke-width="0.8"/>
<rect x="1162.77" y="259.86" width="6.90" height="9.00" fill="#E96863" stroke="#BF5551" stroke-width="0.8"/>
<rect x="1185.40" y="266.14" width="6.90" height="9.00" fill="#E96863" stroke="#BF5551" stroke-width="0.8"/>
<rect x="1216.84" y="278.22" width="6.90" height="9.00" fill="#E96863" stroke="#BF5551" stroke-width="0.8"/>
<rect x="1162.77" y="296.58" width="6.90" height="9.00" fill="#E96863" stroke="#BF5551" stroke-width="0.8"/>
<text x="1148.60" y="103.10" font-size="19.5" textLength="177.06" lengthAdjust="spacingAndGlyphs">Rho = −0.29, p = 0.15</text>
<line x1="1138.60" y1="82.40" x2="1138.60" y2="321.70" stroke="#000" stroke-width="2.2"/>
<line x1="1132.20" y1="276.50" x2="1138.60" y2="276.50" stroke="#000" stroke-width="1.6"/>
<text x="1082.23" y="284.90" font-size="21.9" textLength="39.21" lengthAdjust="spacingAndGlyphs">0.25</text>
<line x1="1132.20" y1="215.50" x2="1138.60" y2="215.50" stroke="#000" stroke-width="1.6"/>
<text x="1082.17" y="223.90" font-size="21.9" textLength="39.21" lengthAdjust="spacingAndGlyphs">0.50</text>
<line x1="1132.20" y1="154.50" x2="1138.60" y2="154.50" stroke="#000" stroke-width="1.6"/>
<text x="1082.23" y="162.90" font-size="21.9" textLength="39.21" lengthAdjust="spacingAndGlyphs">0.75</text>
<line x1="1132.20" y1="93.50" x2="1138.60" y2="93.50" stroke="#000" stroke-width="1.6"/>
<text x="1082.17" y="101.90" font-size="21.9" textLength="39.21" lengthAdjust="spacingAndGlyphs">1.00</text>
<rect x="1385.97" y="49.30" width="233.60" height="33.10" fill="#CBCBCB"/>
<text x="1455.40" y="73.50" font-size="23.0" textLength="93.26" lengthAdjust="spacingAndGlyphs">ER+ BRCA</text>
<rect x="1395.92" y="111.47" width="6.90" height="9.00" fill="#DE8D0E" stroke="#B6730B" stroke-width="0.8"/>
<rect x="1585.55" y="133.35" width="6.90" height="9.00" fill="#DE8D0E" stroke="#B6730B" stroke-width="0.8"/>
<rect x="1415.28" y="142.90" width="6.90" height="9.00" fill="#DE8D0E" stroke="#B6730B" stroke-width="0.8"/>
<rect x="1452.25" y="150.20" width="6.90" height="9.00" fill="#DE8D0E" stroke="#B6730B" stroke-width="0.8"/>
<rect x="1404.72" y="159.25" width="6.90" height="9.00" fill="#DE8D0E" stroke="#B6730B" stroke-width="0.8"/>
<rect x="1443.70" y="156.23" width="6.90" height="9.00" fill="#DE8D0E" stroke="#B6730B" stroke-width="0.8"/>
<rect x="1402.96" y="171.07" width="6.90" height="9.00" fill="#DE8D0E" stroke="#B6730B" stroke-width="0.8"/>
<rect x="1409.50" y="173.09" width="6.90" height="9.00" fill="#DE8D0E" stroke="#B6730B" stroke-width="0.8"/>
<rect x="1450.75" y="166.04" width="6.90" height="9.00" fill="#DE8D0E" stroke="#B6730B" stroke-width="0.8"/>
<rect x="1456.53" y="172.33" width="6.90" height="9.00" fill="#DE8D0E" stroke="#B6730B" stroke-width="0.8"/>
<rect x="1391.64" y="199.49" width="6.90" height="9.00" fill="#DE8D0E" stroke="#B6730B" stroke-width="0.8"/>
<rect x="1413.27" y="208.80" width="6.90" height="9.00" fill="#DE8D0E" stroke="#B6730B" stroke-width="0.8"/>
<rect x="1432.39" y="202.51" width="6.90" height="9.00" fill="#DE8D0E" stroke="#B6730B" stroke-width="0.8"/>
<rect x="1443.45" y="210.81" width="6.90" height="9.00" fill="#DE8D0E" stroke="#B6730B" stroke-width="0.8"/>
<rect x="1442.95" y="215.09" width="6.90" height="9.00" fill="#DE8D0E" stroke="#B6730B" stroke-width="0.8"/>
<rect x="1480.67" y="197.48" width="6.90" height="9.00" fill="#DE8D0E" stroke="#B6730B" stroke-width="0.8"/>
<rect x="1499.03" y="196.48" width="6.90" height="9.00" fill="#DE8D0E" stroke="#B6730B" stroke-width="0.8"/>
<rect x="1418.55" y="242.75" width="6.90" height="9.00" fill="#DE8D0E" stroke="#B6730B" stroke-width="0.8"/>
<rect x="1508.84" y="239.48" width="6.90" height="9.00" fill="#DE8D0E" stroke="#B6730B" stroke-width="0.8"/>
<text x="1398.40" y="103.10" font-size="19.5" textLength="188.11" lengthAdjust="spacingAndGlyphs">Rho = −0.074, p = 0.76</text>
<rect x="1632.74" y="49.30" width="233.60" height="33.10" fill="#CBCBCB"/>
<text x="1689.04" y="73.50" font-size="23.0" textLength="119.49" lengthAdjust="spacingAndGlyphs">HER2+ BRCA</text>
<rect x="1728.00" y="132.09" width="6.90" height="9.00" fill="#BDA105" stroke="#9A8404" stroke-width="0.8"/>
<rect x="1658.58" y="156.23" width="6.90" height="9.00" fill="#BDA105" stroke="#9A8404" stroke-width="0.8"/>
<rect x="1678.95" y="152.71" width="6.90" height="9.00" fill="#BDA105" stroke="#9A8404" stroke-width="0.8"/>
<rect x="1727.75" y="167.30" width="6.90" height="9.00" fill="#BDA105" stroke="#9A8404" stroke-width="0.8"/>
<rect x="1768.74" y="173.34" width="6.90" height="9.00" fill="#BDA105" stroke="#9A8404" stroke-width="0.8"/>
<rect x="1653.55" y="196.73" width="6.90" height="9.00" fill="#BDA105" stroke="#9A8404" stroke-width="0.8"/>
<rect x="1674.43" y="198.99" width="6.90" height="9.00" fill="#BDA105" stroke="#9A8404" stroke-width="0.8"/>
<rect x="1715.42" y="191.70" width="6.90" height="9.00" fill="#BDA105" stroke="#9A8404" stroke-width="0.8"/>
<rect x="1705.36" y="205.28" width="6.90" height="9.00" fill="#BDA105" stroke="#9A8404" stroke-width="0.8"/>
<rect x="1708.38" y="203.77" width="6.90" height="9.00" fill="#BDA105" stroke="#9A8404" stroke-width="0.8"/>
<rect x="1739.32" y="215.84" width="6.90" height="9.00" fill="#BDA105" stroke="#9A8404" stroke-width="0.8"/>
<rect x="1774.53" y="226.91" width="6.90" height="9.00" fill="#BDA105" stroke="#9A8404" stroke-width="0.8"/>
<rect x="1700.33" y="223.14" width="6.90" height="9.00" fill="#BDA105" stroke="#9A8404" stroke-width="0.8"/>
<rect x="1690.52" y="231.69" width="6.90" height="9.00" fill="#BDA105" stroke="#9A8404" stroke-width="0.8"/>
<rect x="1752.40" y="244.01" width="6.90" height="9.00" fill="#BDA105" stroke="#9A8404" stroke-width="0.8"/>
<rect x="1660.85" y="252.56" width="6.90" height="9.00" fill="#BDA105" stroke="#9A8404" stroke-width="0.8"/>
<rect x="1695.81" y="256.84" width="6.90" height="9.00" fill="#BDA105" stroke="#9A8404" stroke-width="0.8"/>
<rect x="1711.90" y="253.32" width="6.90" height="9.00" fill="#BDA105" stroke="#9A8404" stroke-width="0.8"/>
<text x="1644.40" y="103.10" font-size="19.5" textLength="187.29" lengthAdjust="spacingAndGlyphs">Rho = −0.028, p = 0.91</text>
<rect x="1879.51" y="49.30" width="233.60" height="33.10" fill="#CBCBCB"/>
<text x="1954.99" y="73.50" font-size="23.0" textLength="82.26" lengthAdjust="spacingAndGlyphs">TN BRCA</text>
<rect x="1902.55" y="144.16" width="6.90" height="9.00" fill="#8EB021" stroke="#74901B" stroke-width="0.8"/>
<rect x="2003.15" y="138.13" width="6.90" height="9.00" fill="#8EB021" stroke="#74901B" stroke-width="0.8"/>
<rect x="1896.26" y="180.63" width="6.90" height="9.00" fill="#8EB021" stroke="#74901B" stroke-width="0.8"/>
<rect x="1915.62" y="183.65" width="6.90" height="9.00" fill="#8EB021" stroke="#74901B" stroke-width="0.8"/>
<rect x="1937.76" y="195.22" width="6.90" height="9.00" fill="#8EB021" stroke="#74901B" stroke-width="0.8"/>
<rect x="1945.30" y="200.00" width="6.90" height="9.00" fill="#8EB021" stroke="#74901B" stroke-width="0.8"/>
<rect x="1968.94" y="198.74" width="6.90" height="9.00" fill="#8EB021" stroke="#74901B" stroke-width="0.8"/>
<rect x="1890.47" y="215.34" width="6.90" height="9.00" fill="#8EB021" stroke="#74901B" stroke-width="0.8"/>
<rect x="1925.43" y="244.51" width="6.90" height="9.00" fill="#8EB021" stroke="#74901B" stroke-width="0.8"/>
<rect x="1947.82" y="250.05" width="6.90" height="9.00" fill="#8EB021" stroke="#74901B" stroke-width="0.8"/>
<rect x="2042.64" y="239.48" width="6.90" height="9.00" fill="#8EB021" stroke="#74901B" stroke-width="0.8"/>
<rect x="1916.88" y="263.63" width="6.90" height="9.00" fill="#8EB021" stroke="#74901B" stroke-width="0.8"/>
<rect x="1955.36" y="264.63" width="6.90" height="9.00" fill="#8EB021" stroke="#74901B" stroke-width="0.8"/>
<rect x="1989.82" y="269.66" width="6.90" height="9.00" fill="#8EB021" stroke="#74901B" stroke-width="0.8"/>
<rect x="2008.68" y="278.22" width="6.90" height="9.00" fill="#8EB021" stroke="#74901B" stroke-width="0.8"/>
<rect x="1995.35" y="285.01" width="6.90" height="9.00" fill="#8EB021" stroke="#74901B" stroke-width="0.8"/>
<rect x="2043.64" y="268.66" width="6.90" height="9.00" fill="#8EB021" stroke="#74901B" stroke-width="0.8"/>
<text x="1897.70" y="103.10" font-size="19.5" textLength="177.87" lengthAdjust="spacingAndGlyphs">Rho = −0.5, p = 0.045</text>
<rect x="1139.20" y="333.90" width="233.60" height="32.20" fill="#CBCBCB"/>
<text x="1226.46" y="358.10" font-size="23.0" textLength="59.01" lengthAdjust="spacingAndGlyphs">COAD</text>
<rect x="1169.31" y="372.09" width="6.90" height="9.00" fill="#3CA83D" stroke="#318932" stroke-width="0.8"/>
<rect x="1163.52" y="387.18" width="6.90" height="9.00" fill="#3CA83D" stroke="#318932" stroke-width="0.8"/>
<rect x="1218.35" y="387.18" width="6.90" height="9.00" fill="#3CA83D" stroke="#318932" stroke-width="0.8"/>
<rect x="1222.88" y="387.18" width="6.90" height="9.00" fill="#3CA83D" stroke="#318932" stroke-width="0.8"/>
<rect x="1228.41" y="382.65" width="6.90" height="9.00" fill="#3CA83D" stroke="#318932" stroke-width="0.8"/>
<rect x="1232.94" y="389.69" width="6.90" height="9.00" fill="#3CA83D" stroke="#318932" stroke-width="0.8"/>
<rect x="1251.30" y="392.21" width="6.90" height="9.00" fill="#3CA83D" stroke="#318932" stroke-width="0.8"/>
<rect x="1261.61" y="394.72" width="6.90" height="9.00" fill="#3CA83D" stroke="#318932" stroke-width="0.8"/>
<rect x="1281.73" y="390.95" width="6.90" height="9.00" fill="#3CA83D" stroke="#318932" stroke-width="0.8"/>
<rect x="1173.08" y="420.13" width="6.90" height="9.00" fill="#3CA83D" stroke="#318932" stroke-width="0.8"/>
<rect x="1204.01" y="442.26" width="6.90" height="9.00" fill="#3CA83D" stroke="#318932" stroke-width="0.8"/>
<rect x="1228.16" y="451.82" width="6.90" height="9.00" fill="#3CA83D" stroke="#318932" stroke-width="0.8"/>
<rect x="1229.17" y="501.61" width="6.90" height="9.00" fill="#3CA83D" stroke="#318932" stroke-width="0.8"/>
<text x="1156.70" y="385.90" font-size="19.5" textLength="177.27" lengthAdjust="spacingAndGlyphs">Rho = −0.28, p = 0.35</text>
<line x1="1138.60" y1="366.10" x2="1138.60" y2="605.40" stroke="#000" stroke-width="2.2"/>
<line x1="1132.20" y1="560.20" x2="1138.60" y2="560.20" stroke="#000" stroke-width="1.6"/>
<text x="1082.23" y="568.60" font-size="21.9" textLength="39.21" lengthAdjust="spacingAndGlyphs">0.25</text>
<line x1="1132.20" y1="499.20" x2="1138.60" y2="499.20" stroke="#000" stroke-width="1.6"/>
<text x="1082.17" y="507.60" font-size="21.9" textLength="39.21" lengthAdjust="spacingAndGlyphs">0.50</text>
<line x1="1132.20" y1="438.20" x2="1138.60" y2="438.20" stroke="#000" stroke-width="1.6"/>
<text x="1082.23" y="446.60" font-size="21.9" textLength="39.21" lengthAdjust="spacingAndGlyphs">0.75</text>
<line x1="1132.20" y1="377.20" x2="1138.60" y2="377.20" stroke="#000" stroke-width="1.6"/>
<text x="1082.17" y="385.60" font-size="21.9" textLength="39.21" lengthAdjust="spacingAndGlyphs">1.00</text>
<rect x="1385.97" y="333.90" width="233.60" height="32.20" fill="#CBCBCB"/>
<text x="1477.01" y="358.10" font-size="23.0" textLength="50.04" lengthAdjust="spacingAndGlyphs">ESCA</text>
<rect x="1403.96" y="409.31" width="6.90" height="9.00" fill="#33AC6C" stroke="#298D58" stroke-width="0.8"/>
<rect x="1390.63" y="440.75" width="6.90" height="9.00" fill="#33AC6C" stroke="#298D58" stroke-width="0.8"/>
<rect x="1428.61" y="460.12" width="6.90" height="9.00" fill="#33AC6C" stroke="#298D58" stroke-width="0.8"/>
<rect x="1415.03" y="472.69" width="6.90" height="9.00" fill="#33AC6C" stroke="#298D58" stroke-width="0.8"/>
<rect x="1443.95" y="470.18" width="6.90" height="9.00" fill="#33AC6C" stroke="#298D58" stroke-width="0.8"/>
<rect x="1447.73" y="468.92" width="6.90" height="9.00" fill="#33AC6C" stroke="#298D58" stroke-width="0.8"/>
<rect x="1452.51" y="477.22" width="6.90" height="9.00" fill="#33AC6C" stroke="#298D58" stroke-width="0.8"/>
<rect x="1527.71" y="472.44" width="6.90" height="9.00" fill="#33AC6C" stroke="#298D58" stroke-width="0.8"/>
<rect x="1455.02" y="495.33" width="6.90" height="9.00" fill="#33AC6C" stroke="#298D58" stroke-width="0.8"/>
<rect x="1460.05" y="501.87" width="6.90" height="9.00" fill="#33AC6C" stroke="#298D58" stroke-width="0.8"/>
<rect x="1494.76" y="496.58" width="6.90" height="9.00" fill="#33AC6C" stroke="#298D58" stroke-width="0.8"/>
<rect x="1590.58" y="494.57" width="6.90" height="9.00" fill="#33AC6C" stroke="#298D58" stroke-width="0.8"/>
<rect x="1418.05" y="505.39" width="6.90" height="9.00" fill="#33AC6C" stroke="#298D58" stroke-width="0.8"/>
<rect x="1479.92" y="511.42" width="6.90" height="9.00" fill="#33AC6C" stroke="#298D58" stroke-width="0.8"/>
<rect x="1512.62" y="518.97" width="6.90" height="9.00" fill="#33AC6C" stroke="#298D58" stroke-width="0.8"/>
<rect x="1545.31" y="520.23" width="6.90" height="9.00" fill="#33AC6C" stroke="#298D58" stroke-width="0.8"/>
<rect x="1431.38" y="551.66" width="6.90" height="9.00" fill="#33AC6C" stroke="#298D58" stroke-width="0.8"/>
<rect x="1506.08" y="550.16" width="6.90" height="9.00" fill="#33AC6C" stroke="#298D58" stroke-width="0.8"/>
<rect x="1507.84" y="548.14" width="6.90" height="9.00" fill="#33AC6C" stroke="#298D58" stroke-width="0.8"/>
<rect x="1553.11" y="557.95" width="6.90" height="9.00" fill="#33AC6C" stroke="#298D58" stroke-width="0.8"/>
<rect x="1479.92" y="573.55" width="6.90" height="9.00" fill="#33AC6C" stroke="#298D58" stroke-width="0.8"/>
<rect x="1447.22" y="581.09" width="6.90" height="9.00" fill="#33AC6C" stroke="#298D58" stroke-width="0.8"/>
<text x="1392.59" y="385.90" font-size="19.5" textLength="188.53" lengthAdjust="spacingAndGlyphs">Rho = −0.49, p = 0.022</text>
<rect x="1632.74" y="333.90" width="233.60" height="32.20" fill="#CBCBCB"/>
<text x="1715.01" y="358.10" font-size="23.0" textLength="67.98" lengthAdjust="spacingAndGlyphs">Glioma</text>
<rect x="1641.23" y="392.96" width="6.90" height="9.00" fill="#2FAE96" stroke="#268E7A" stroke-width="0.8"/>
<rect x="1648.27" y="403.27" width="6.90" height="9.00" fill="#2FAE96" stroke="#268E7A" stroke-width="0.8"/>
<rect x="1664.37" y="401.77" width="6.90" height="9.00" fill="#2FAE96" stroke="#268E7A" stroke-width="0.8"/>
<rect x="1680.21" y="406.04" width="6.90" height="9.00" fill="#2FAE96" stroke="#268E7A" stroke-width="0.8"/>
<rect x="1680.21" y="414.09" width="6.90" height="9.00" fill="#2FAE96" stroke="#268E7A" stroke-width="0.8"/>
<rect x="1672.67" y="416.60" width="6.90" height="9.00" fill="#2FAE96" stroke="#268E7A" stroke-width="0.8"/>
<rect x="1684.74" y="437.48" width="6.90" height="9.00" fill="#2FAE96" stroke="#268E7A" stroke-width="0.8"/>
<rect x="1684.74" y="441.25" width="6.90" height="9.00" fill="#2FAE96" stroke="#268E7A" stroke-width="0.8"/>
<rect x="1711.15" y="445.53" width="6.90" height="9.00" fill="#2FAE96" stroke="#268E7A" stroke-width="0.8"/>
<rect x="1641.23" y="464.14" width="6.90" height="9.00" fill="#2FAE96" stroke="#268E7A" stroke-width="0.8"/>
<rect x="1698.57" y="462.63" width="6.90" height="9.00" fill="#2FAE96" stroke="#268E7A" stroke-width="0.8"/>
<rect x="1676.44" y="494.32" width="6.90" height="9.00" fill="#2FAE96" stroke="#268E7A" stroke-width="0.8"/>
<text x="1637.40" y="385.90" font-size="19.5" textLength="177.61" lengthAdjust="spacingAndGlyphs">Rho = −0.38, p = 0.23</text>
<rect x="1879.51" y="333.90" width="233.60" height="32.20" fill="#CBCBCB"/>
<text x="1973.74" y="358.10" font-size="23.0" textLength="44.33" lengthAdjust="spacingAndGlyphs">KIRC</text>
<rect x="1885.04" y="431.28" width="6.90" height="9.00" fill="#27AFD6" stroke="#1F8FAF" stroke-width="0.8"/>
<rect x="1915.23" y="428.44" width="6.90" height="9.00" fill="#27AFD6" stroke="#1F8FAF" stroke-width="0.8"/>
<rect x="1885.04" y="456.17" width="6.90" height="9.00" fill="#27AFD6" stroke="#1F8FAF" stroke-width="0.8"/>
<rect x="1885.04" y="462.33" width="6.90" height="9.00" fill="#27AFD6" stroke="#1F8FAF" stroke-width="0.8"/>
<rect x="1885.04" y="468.49" width="6.90" height="9.00" fill="#27AFD6" stroke="#1F8FAF" stroke-width="0.8"/>
<rect x="1885.04" y="474.66" width="6.90" height="9.00" fill="#27AFD6" stroke="#1F8FAF" stroke-width="0.8"/>
<rect x="1885.04" y="479.59" width="6.90" height="9.00" fill="#27AFD6" stroke="#1F8FAF" stroke-width="0.8"/>
<rect x="1896.37" y="462.95" width="6.90" height="9.00" fill="#27AFD6" stroke="#1F8FAF" stroke-width="0.8"/>
<rect x="1896.37" y="468.49" width="6.90" height="9.00" fill="#27AFD6" stroke="#1F8FAF" stroke-width="0.8"/>
<rect x="1896.37" y="474.66" width="6.90" height="9.00" fill="#27AFD6" stroke="#1F8FAF" stroke-width="0.8"/>
<rect x="1896.37" y="479.59" width="6.90" height="9.00" fill="#27AFD6" stroke="#1F8FAF" stroke-width="0.8"/>
<rect x="1901.67" y="464.18" width="6.90" height="9.00" fill="#27AFD6" stroke="#1F8FAF" stroke-width="0.8"/>
<rect x="1906.60" y="470.34" width="6.90" height="9.00" fill="#27AFD6" stroke="#1F8FAF" stroke-width="0.8"/>
<rect x="1915.85" y="473.42" width="6.90" height="9.00" fill="#27AFD6" stroke="#1F8FAF" stroke-width="0.8"/>
<rect x="1930.02" y="452.47" width="6.90" height="9.00" fill="#27AFD6" stroke="#1F8FAF" stroke-width="0.8"/>
<rect x="1930.02" y="457.40" width="6.90" height="9.00" fill="#27AFD6" stroke="#1F8FAF" stroke-width="0.8"/>
<rect x="1939.26" y="472.19" width="6.90" height="9.00" fill="#27AFD6" stroke="#1F8FAF" stroke-width="0.8"/>
<rect x="1951.59" y="482.05" width="6.90" height="9.00" fill="#27AFD6" stroke="#1F8FAF" stroke-width="0.8"/>
<rect x="1991.03" y="479.59" width="6.90" height="9.00" fill="#27AFD6" stroke="#1F8FAF" stroke-width="0.8"/>
<rect x="1991.03" y="482.05" width="6.90" height="9.00" fill="#27AFD6" stroke="#1F8FAF" stroke-width="0.8"/>
<rect x="1910.92" y="485.75" width="6.90" height="9.00" fill="#27AFD6" stroke="#1F8FAF" stroke-width="0.8"/>
<rect x="1890.58" y="489.45" width="6.90" height="9.00" fill="#27AFD6" stroke="#1F8FAF" stroke-width="0.8"/>
<rect x="1890.58" y="494.38" width="6.90" height="9.00" fill="#27AFD6" stroke="#1F8FAF" stroke-width="0.8"/>
<rect x="1899.21" y="486.98" width="6.90" height="9.00" fill="#27AFD6" stroke="#1F8FAF" stroke-width="0.8"/>
<rect x="1899.21" y="491.91" width="6.90" height="9.00" fill="#27AFD6" stroke="#1F8FAF" stroke-width="0.8"/>
<rect x="1973.77" y="489.45" width="6.90" height="9.00" fill="#27AFD6" stroke="#1F8FAF" stroke-width="0.8"/>
<rect x="1986.71" y="494.38" width="6.90" height="9.00" fill="#27AFD6" stroke="#1F8FAF" stroke-width="0.8"/>
<rect x="2038.48" y="500.54" width="6.90" height="9.00" fill="#27AFD6" stroke="#1F8FAF" stroke-width="0.8"/>
<rect x="2085.92" y="503.00" width="6.90" height="9.00" fill="#27AFD6" stroke="#1F8FAF" stroke-width="0.8"/>
<rect x="2097.63" y="505.47" width="6.90" height="9.00" fill="#27AFD6" stroke="#1F8FAF" stroke-width="0.8"/>
<rect x="1885.04" y="501.77" width="6.90" height="9.00" fill="#27AFD6" stroke="#1F8FAF" stroke-width="0.8"/>
<rect x="1896.13" y="503.62" width="6.90" height="9.00" fill="#27AFD6" stroke="#1F8FAF" stroke-width="0.8"/>
<rect x="1902.29" y="501.77" width="6.90" height="9.00" fill="#27AFD6" stroke="#1F8FAF" stroke-width="0.8"/>
<rect x="1905.99" y="500.54" width="6.90" height="9.00" fill="#27AFD6" stroke="#1F8FAF" stroke-width="0.8"/>
<rect x="1919.54" y="499.31" width="6.90" height="9.00" fill="#27AFD6" stroke="#1F8FAF" stroke-width="0.8"/>
<rect x="1919.54" y="504.24" width="6.90" height="9.00" fill="#27AFD6" stroke="#1F8FAF" stroke-width="0.8"/>
<rect x="1912.15" y="511.01" width="6.90" height="9.00" fill="#27AFD6" stroke="#1F8FAF" stroke-width="0.8"/>
<rect x="1923.24" y="514.10" width="6.90" height="9.00" fill="#27AFD6" stroke="#1F8FAF" stroke-width="0.8"/>
<rect x="1930.64" y="503.00" width="6.90" height="9.00" fill="#27AFD6" stroke="#1F8FAF" stroke-width="0.8"/>
<rect x="1941.73" y="496.84" width="6.90" height="9.00" fill="#27AFD6" stroke="#1F8FAF" stroke-width="0.8"/>
<rect x="1962.06" y="499.31" width="6.90" height="9.00" fill="#27AFD6" stroke="#1F8FAF" stroke-width="0.8"/>
<rect x="1960.83" y="506.08" width="6.90" height="9.00" fill="#27AFD6" stroke="#1F8FAF" stroke-width="0.8"/>
<rect x="1979.32" y="514.10" width="6.90" height="9.00" fill="#27AFD6" stroke="#1F8FAF" stroke-width="0.8"/>
<rect x="2009.51" y="512.86" width="6.90" height="9.00" fill="#27AFD6" stroke="#1F8FAF" stroke-width="0.8"/>
<rect x="1885.04" y="528.27" width="6.90" height="9.00" fill="#27AFD6" stroke="#1F8FAF" stroke-width="0.8"/>
<rect x="1931.87" y="533.81" width="6.90" height="9.00" fill="#27AFD6" stroke="#1F8FAF" stroke-width="0.8"/>
<rect x="1931.87" y="538.74" width="6.90" height="9.00" fill="#27AFD6" stroke="#1F8FAF" stroke-width="0.8"/>
<rect x="1946.66" y="530.73" width="6.90" height="9.00" fill="#27AFD6" stroke="#1F8FAF" stroke-width="0.8"/>
<rect x="1957.13" y="528.88" width="6.90" height="9.00" fill="#27AFD6" stroke="#1F8FAF" stroke-width="0.8"/>
<rect x="1960.22" y="534.43" width="6.90" height="9.00" fill="#27AFD6" stroke="#1F8FAF" stroke-width="0.8"/>
<rect x="1944.19" y="543.06" width="6.90" height="9.00" fill="#27AFD6" stroke="#1F8FAF" stroke-width="0.8"/>
<rect x="1953.44" y="546.75" width="6.90" height="9.00" fill="#27AFD6" stroke="#1F8FAF" stroke-width="0.8"/>
<rect x="1989.18" y="533.20" width="6.90" height="9.00" fill="#27AFD6" stroke="#1F8FAF" stroke-width="0.8"/>
<rect x="2005.82" y="540.59" width="6.90" height="9.00" fill="#27AFD6" stroke="#1F8FAF" stroke-width="0.8"/>
<rect x="2066.20" y="540.59" width="6.90" height="9.00" fill="#27AFD6" stroke="#1F8FAF" stroke-width="0.8"/>
<rect x="1905.99" y="561.54" width="6.90" height="9.00" fill="#27AFD6" stroke="#1F8FAF" stroke-width="0.8"/>
<text x="1891.38" y="385.90" font-size="19.5" textLength="190.76" lengthAdjust="spacingAndGlyphs">Rho = −0.45, p= 6e−04</text>
<rect x="1139.20" y="612.40" width="233.60" height="31.80" fill="#CBCBCB"/>
<text x="1227.73" y="636.60" font-size="23.0" textLength="55.82" lengthAdjust="spacingAndGlyphs">LUAD</text>
<rect x="1161.10" y="723.79" width="6.90" height="9.00" fill="#4A99D4" stroke="#3C7DAD" stroke-width="0.8"/>
<rect x="1161.10" y="729.45" width="6.90" height="9.00" fill="#4A99D4" stroke="#3C7DAD" stroke-width="0.8"/>
<rect x="1171.16" y="735.11" width="6.90" height="9.00" fill="#4A99D4" stroke="#3C7DAD" stroke-width="0.8"/>
<rect x="1145.13" y="740.77" width="6.90" height="9.00" fill="#4A99D4" stroke="#3C7DAD" stroke-width="0.8"/>
<rect x="1145.13" y="746.43" width="6.90" height="9.00" fill="#4A99D4" stroke="#3C7DAD" stroke-width="0.8"/>
<rect x="1193.17" y="736.37" width="6.90" height="9.00" fill="#4A99D4" stroke="#3C7DAD" stroke-width="0.8"/>
<rect x="1199.46" y="728.82" width="6.90" height="9.00" fill="#4A99D4" stroke="#3C7DAD" stroke-width="0.8"/>
<rect x="1235.30" y="732.60" width="6.90" height="9.00" fill="#4A99D4" stroke="#3C7DAD" stroke-width="0.8"/>
<rect x="1278.43" y="740.14" width="6.90" height="9.00" fill="#4A99D4" stroke="#3C7DAD" stroke-width="0.8"/>
<rect x="1201.60" y="750.83" width="6.90" height="9.00" fill="#4A99D4" stroke="#3C7DAD" stroke-width="0.8"/>
<rect x="1209.52" y="759.63" width="6.90" height="9.00" fill="#4A99D4" stroke="#3C7DAD" stroke-width="0.8"/>
<rect x="1171.16" y="761.52" width="6.90" height="9.00" fill="#4A99D4" stroke="#3C7DAD" stroke-width="0.8"/>
<rect x="1188.14" y="762.78" width="6.90" height="9.00" fill="#4A99D4" stroke="#3C7DAD" stroke-width="0.8"/>
<rect x="1230.90" y="765.29" width="6.90" height="9.00" fill="#4A99D4" stroke="#3C7DAD" stroke-width="0.8"/>
<rect x="1258.56" y="765.67" width="6.90" height="9.00" fill="#4A99D4" stroke="#3C7DAD" stroke-width="0.8"/>
<rect x="1320.18" y="760.64" width="6.90" height="9.00" fill="#4A99D4" stroke="#3C7DAD" stroke-width="0.8"/>
<rect x="1273.02" y="772.84" width="6.90" height="9.00" fill="#4A99D4" stroke="#3C7DAD" stroke-width="0.8"/>
<rect x="1281.20" y="769.44" width="6.90" height="9.00" fill="#4A99D4" stroke="#3C7DAD" stroke-width="0.8"/>
<rect x="1145.38" y="770.70" width="6.90" height="9.00" fill="#4A99D4" stroke="#3C7DAD" stroke-width="0.8"/>
<rect x="1147.90" y="770.32" width="6.90" height="9.00" fill="#4A99D4" stroke="#3C7DAD" stroke-width="0.8"/>
<rect x="1174.94" y="769.07" width="6.90" height="9.00" fill="#4A99D4" stroke="#3C7DAD" stroke-width="0.8"/>
<rect x="1171.16" y="773.47" width="6.90" height="9.00" fill="#4A99D4" stroke="#3C7DAD" stroke-width="0.8"/>
<rect x="1169.28" y="779.13" width="6.90" height="9.00" fill="#4A99D4" stroke="#3C7DAD" stroke-width="0.8"/>
<rect x="1189.40" y="769.07" width="6.90" height="9.00" fill="#4A99D4" stroke="#3C7DAD" stroke-width="0.8"/>
<rect x="1195.68" y="770.32" width="6.90" height="9.00" fill="#4A99D4" stroke="#3C7DAD" stroke-width="0.8"/>
<rect x="1202.60" y="770.95" width="6.90" height="9.00" fill="#4A99D4" stroke="#3C7DAD" stroke-width="0.8"/>
<rect x="1188.14" y="775.98" width="6.90" height="9.00" fill="#4A99D4" stroke="#3C7DAD" stroke-width="0.8"/>
<rect x="1203.23" y="777.24" width="6.90" height="9.00" fill="#4A99D4" stroke="#3C7DAD" stroke-width="0.8"/>
<rect x="1192.54" y="785.41" width="6.90" height="9.00" fill="#4A99D4" stroke="#3C7DAD" stroke-width="0.8"/>
<rect x="1216.43" y="775.98" width="6.90" height="9.00" fill="#4A99D4" stroke="#3C7DAD" stroke-width="0.8"/>
<rect x="1146.39" y="786.04" width="6.90" height="9.00" fill="#4A99D4" stroke="#3C7DAD" stroke-width="0.8"/>
<rect x="1150.16" y="793.59" width="6.90" height="9.00" fill="#4A99D4" stroke="#3C7DAD" stroke-width="0.8"/>
<rect x="1162.99" y="792.33" width="6.90" height="9.00" fill="#4A99D4" stroke="#3C7DAD" stroke-width="0.8"/>
<rect x="1179.97" y="789.82" width="6.90" height="9.00" fill="#4A99D4" stroke="#3C7DAD" stroke-width="0.8"/>
<rect x="1213.04" y="787.30" width="6.90" height="9.00" fill="#4A99D4" stroke="#3C7DAD" stroke-width="0.8"/>
<rect x="1228.38" y="789.19" width="6.90" height="9.00" fill="#4A99D4" stroke="#3C7DAD" stroke-width="0.8"/>
<rect x="1233.41" y="784.79" width="6.90" height="9.00" fill="#4A99D4" stroke="#3C7DAD" stroke-width="0.8"/>
<rect x="1235.30" y="797.36" width="6.90" height="9.00" fill="#4A99D4" stroke="#3C7DAD" stroke-width="0.8"/>
<rect x="1207.63" y="799.25" width="6.90" height="9.00" fill="#4A99D4" stroke="#3C7DAD" stroke-width="0.8"/>
<rect x="1212.03" y="802.39" width="6.90" height="9.00" fill="#4A99D4" stroke="#3C7DAD" stroke-width="0.8"/>
<rect x="1227.12" y="804.91" width="6.90" height="9.00" fill="#4A99D4" stroke="#3C7DAD" stroke-width="0.8"/>
<rect x="1143.50" y="808.68" width="6.90" height="9.00" fill="#4A99D4" stroke="#3C7DAD" stroke-width="0.8"/>
<rect x="1143.50" y="819.37" width="6.90" height="9.00" fill="#4A99D4" stroke="#3C7DAD" stroke-width="0.8"/>
<rect x="1159.22" y="803.65" width="6.90" height="9.00" fill="#4A99D4" stroke="#3C7DAD" stroke-width="0.8"/>
<rect x="1155.44" y="808.68" width="6.90" height="9.00" fill="#4A99D4" stroke="#3C7DAD" stroke-width="0.8"/>
<rect x="1154.81" y="820.00" width="6.90" height="9.00" fill="#4A99D4" stroke="#3C7DAD" stroke-width="0.8"/>
<rect x="1165.50" y="804.28" width="6.90" height="9.00" fill="#4A99D4" stroke="#3C7DAD" stroke-width="0.8"/>
<rect x="1179.97" y="806.16" width="6.90" height="9.00" fill="#4A99D4" stroke="#3C7DAD" stroke-width="0.8"/>
<rect x="1180.59" y="812.45" width="6.90" height="9.00" fill="#4A99D4" stroke="#3C7DAD" stroke-width="0.8"/>
<rect x="1166.76" y="821.25" width="6.90" height="9.00" fill="#4A99D4" stroke="#3C7DAD" stroke-width="0.8"/>
<rect x="1174.31" y="817.48" width="6.90" height="9.00" fill="#4A99D4" stroke="#3C7DAD" stroke-width="0.8"/>
<rect x="1183.11" y="827.54" width="6.90" height="9.00" fill="#4A99D4" stroke="#3C7DAD" stroke-width="0.8"/>
<rect x="1194.43" y="826.28" width="6.90" height="9.00" fill="#4A99D4" stroke="#3C7DAD" stroke-width="0.8"/>
<rect x="1190.65" y="831.31" width="6.90" height="9.00" fill="#4A99D4" stroke="#3C7DAD" stroke-width="0.8"/>
<rect x="1201.97" y="831.31" width="6.90" height="9.00" fill="#4A99D4" stroke="#3C7DAD" stroke-width="0.8"/>
<rect x="1199.46" y="831.94" width="6.90" height="9.00" fill="#4A99D4" stroke="#3C7DAD" stroke-width="0.8"/>
<rect x="1215.18" y="835.09" width="6.90" height="9.00" fill="#4A99D4" stroke="#3C7DAD" stroke-width="0.8"/>
<rect x="1233.41" y="825.03" width="6.90" height="9.00" fill="#4A99D4" stroke="#3C7DAD" stroke-width="0.8"/>
<rect x="1229.64" y="831.94" width="6.90" height="9.00" fill="#4A99D4" stroke="#3C7DAD" stroke-width="0.8"/>
<rect x="1238.44" y="838.86" width="6.90" height="9.00" fill="#4A99D4" stroke="#3C7DAD" stroke-width="0.8"/>
<rect x="1280.57" y="827.54" width="6.90" height="9.00" fill="#4A99D4" stroke="#3C7DAD" stroke-width="0.8"/>
<rect x="1303.83" y="836.35" width="6.90" height="9.00" fill="#4A99D4" stroke="#3C7DAD" stroke-width="0.8"/>
<rect x="1156.07" y="833.83" width="6.90" height="9.00" fill="#4A99D4" stroke="#3C7DAD" stroke-width="0.8"/>
<rect x="1156.70" y="841.38" width="6.90" height="9.00" fill="#4A99D4" stroke="#3C7DAD" stroke-width="0.8"/>
<rect x="1173.05" y="841.38" width="6.90" height="9.00" fill="#4A99D4" stroke="#3C7DAD" stroke-width="0.8"/>
<rect x="1174.31" y="847.66" width="6.90" height="9.00" fill="#4A99D4" stroke="#3C7DAD" stroke-width="0.8"/>
<rect x="1181.22" y="844.52" width="6.90" height="9.00" fill="#4A99D4" stroke="#3C7DAD" stroke-width="0.8"/>
<rect x="1190.65" y="842.00" width="6.90" height="9.00" fill="#4A99D4" stroke="#3C7DAD" stroke-width="0.8"/>
<rect x="1278.05" y="843.89" width="6.90" height="9.00" fill="#4A99D4" stroke="#3C7DAD" stroke-width="0.8"/>
<rect x="1151.67" y="855.84" width="6.90" height="9.00" fill="#4A99D4" stroke="#3C7DAD" stroke-width="0.8"/>
<rect x="1156.70" y="860.87" width="6.90" height="9.00" fill="#4A99D4" stroke="#3C7DAD" stroke-width="0.8"/>
<rect x="1181.85" y="856.47" width="6.90" height="9.00" fill="#4A99D4" stroke="#3C7DAD" stroke-width="0.8"/>
<rect x="1201.34" y="858.35" width="6.90" height="9.00" fill="#4A99D4" stroke="#3C7DAD" stroke-width="0.8"/>
<rect x="1207.00" y="866.53" width="6.90" height="9.00" fill="#4A99D4" stroke="#3C7DAD" stroke-width="0.8"/>
<rect x="1221.46" y="860.87" width="6.90" height="9.00" fill="#4A99D4" stroke="#3C7DAD" stroke-width="0.8"/>
<rect x="1257.30" y="852.06" width="6.90" height="9.00" fill="#4A99D4" stroke="#3C7DAD" stroke-width="0.8"/>
<rect x="1285.98" y="860.87" width="6.90" height="9.00" fill="#4A99D4" stroke="#3C7DAD" stroke-width="0.8"/>
<text x="1153.59" y="663.90" font-size="19.5" textLength="183.13" lengthAdjust="spacingAndGlyphs">Rho = −0.033, p= 0.77</text>
<line x1="1138.60" y1="644.20" x2="1138.60" y2="883.50" stroke="#000" stroke-width="2.2"/>
<line x1="1132.20" y1="838.30" x2="1138.60" y2="838.30" stroke="#000" stroke-width="1.6"/>
<text x="1082.23" y="846.70" font-size="21.9" textLength="39.21" lengthAdjust="spacingAndGlyphs">0.25</text>
<line x1="1132.20" y1="777.30" x2="1138.60" y2="777.30" stroke="#000" stroke-width="1.6"/>
<text x="1082.17" y="785.70" font-size="21.9" textLength="39.21" lengthAdjust="spacingAndGlyphs">0.50</text>
<line x1="1132.20" y1="716.30" x2="1138.60" y2="716.30" stroke="#000" stroke-width="1.6"/>
<text x="1082.23" y="724.70" font-size="21.9" textLength="39.21" lengthAdjust="spacingAndGlyphs">0.75</text>
<line x1="1132.20" y1="655.30" x2="1138.60" y2="655.30" stroke="#000" stroke-width="1.6"/>
<text x="1082.17" y="663.70" font-size="21.9" textLength="39.21" lengthAdjust="spacingAndGlyphs">1.00</text>
<rect x="1385.97" y="612.40" width="233.60" height="31.80" fill="#CBCBCB"/>
<text x="1476.96" y="636.60" font-size="23.0" textLength="50.79" lengthAdjust="spacingAndGlyphs">LUSC</text>
<rect x="1394.66" y="688.57" width="6.90" height="9.00" fill="#8790CE" stroke="#6E76A8" stroke-width="0.8"/>
<rect x="1421.57" y="719.25" width="6.90" height="9.00" fill="#8790CE" stroke="#6E76A8" stroke-width="0.8"/>
<rect x="1463.57" y="716.74" width="6.90" height="9.00" fill="#8790CE" stroke="#6E76A8" stroke-width="0.8"/>
<rect x="1475.64" y="743.65" width="6.90" height="9.00" fill="#8790CE" stroke="#6E76A8" stroke-width="0.8"/>
<rect x="1462.82" y="750.94" width="6.90" height="9.00" fill="#8790CE" stroke="#6E76A8" stroke-width="0.8"/>
<rect x="1423.08" y="754.21" width="6.90" height="9.00" fill="#8790CE" stroke="#6E76A8" stroke-width="0.8"/>
<rect x="1426.85" y="758.24" width="6.90" height="9.00" fill="#8790CE" stroke="#6E76A8" stroke-width="0.8"/>
<rect x="1478.16" y="760.50" width="6.90" height="9.00" fill="#8790CE" stroke="#6E76A8" stroke-width="0.8"/>
<rect x="1446.72" y="772.82" width="6.90" height="9.00" fill="#8790CE" stroke="#6E76A8" stroke-width="0.8"/>
<rect x="1445.71" y="790.93" width="6.90" height="9.00" fill="#8790CE" stroke="#6E76A8" stroke-width="0.8"/>
<rect x="1441.19" y="794.45" width="6.90" height="9.00" fill="#8790CE" stroke="#6E76A8" stroke-width="0.8"/>
<rect x="1460.05" y="789.93" width="6.90" height="9.00" fill="#8790CE" stroke="#6E76A8" stroke-width="0.8"/>
<rect x="1487.21" y="793.45" width="6.90" height="9.00" fill="#8790CE" stroke="#6E76A8" stroke-width="0.8"/>
<rect x="1514.38" y="804.51" width="6.90" height="9.00" fill="#8790CE" stroke="#6E76A8" stroke-width="0.8"/>
<rect x="1556.63" y="807.03" width="6.90" height="9.00" fill="#8790CE" stroke="#6E76A8" stroke-width="0.8"/>
<rect x="1421.32" y="809.04" width="6.90" height="9.00" fill="#8790CE" stroke="#6E76A8" stroke-width="0.8"/>
<rect x="1447.48" y="804.77" width="6.90" height="9.00" fill="#8790CE" stroke="#6E76A8" stroke-width="0.8"/>
<rect x="1463.07" y="823.88" width="6.90" height="9.00" fill="#8790CE" stroke="#6E76A8" stroke-width="0.8"/>
<rect x="1473.63" y="827.65" width="6.90" height="9.00" fill="#8790CE" stroke="#6E76A8" stroke-width="0.8"/>
<rect x="1490.74" y="823.88" width="6.90" height="9.00" fill="#8790CE" stroke="#6E76A8" stroke-width="0.8"/>
<rect x="1409.25" y="841.23" width="6.90" height="9.00" fill="#8790CE" stroke="#6E76A8" stroke-width="0.8"/>
<rect x="1416.29" y="841.23" width="6.90" height="9.00" fill="#8790CE" stroke="#6E76A8" stroke-width="0.8"/>
<rect x="1447.22" y="843.25" width="6.90" height="9.00" fill="#8790CE" stroke="#6E76A8" stroke-width="0.8"/>
<rect x="1430.88" y="849.53" width="6.90" height="9.00" fill="#8790CE" stroke="#6E76A8" stroke-width="0.8"/>
<rect x="1474.39" y="848.28" width="6.90" height="9.00" fill="#8790CE" stroke="#6E76A8" stroke-width="0.8"/>
<rect x="1486.21" y="845.76" width="6.90" height="9.00" fill="#8790CE" stroke="#6E76A8" stroke-width="0.8"/>
<rect x="1456.28" y="854.56" width="6.90" height="9.00" fill="#8790CE" stroke="#6E76A8" stroke-width="0.8"/>
<rect x="1462.06" y="860.85" width="6.90" height="9.00" fill="#8790CE" stroke="#6E76A8" stroke-width="0.8"/>
<rect x="1420.06" y="860.85" width="6.90" height="9.00" fill="#8790CE" stroke="#6E76A8" stroke-width="0.8"/>
<rect x="1422.58" y="860.85" width="6.90" height="9.00" fill="#8790CE" stroke="#6E76A8" stroke-width="0.8"/>
<rect x="1499.03" y="859.09" width="6.90" height="9.00" fill="#8790CE" stroke="#6E76A8" stroke-width="0.8"/>
<text x="1397.40" y="663.90" font-size="19.5" textLength="187.72" lengthAdjust="spacingAndGlyphs">Rho = −0.031, p = 0.87</text>
<line x1="1384.27" y1="882.50" x2="1620.07" y2="882.50" stroke="#000" stroke-width="2.2"/>
<line x1="1395.67" y1="882.50" x2="1395.67" y2="889.00" stroke="#000" stroke-width="1.6"/>
<text x="1379.72" y="912.10" font-size="22.3" textLength="27.90" lengthAdjust="spacingAndGlyphs">0.0</text>
<line x1="1446.31" y1="882.50" x2="1446.31" y2="889.00" stroke="#000" stroke-width="1.6"/>
<text x="1430.47" y="912.10" font-size="22.3" textLength="27.90" lengthAdjust="spacingAndGlyphs">0.2</text>
<line x1="1496.95" y1="882.50" x2="1496.95" y2="889.00" stroke="#000" stroke-width="1.6"/>
<text x="1480.90" y="912.10" font-size="22.3" textLength="27.90" lengthAdjust="spacingAndGlyphs">0.4</text>
<line x1="1547.59" y1="882.50" x2="1547.59" y2="889.00" stroke="#000" stroke-width="1.6"/>
<text x="1531.69" y="912.10" font-size="22.3" textLength="27.90" lengthAdjust="spacingAndGlyphs">0.6</text>
<line x1="1598.23" y1="882.50" x2="1598.23" y2="889.00" stroke="#000" stroke-width="1.6"/>
<text x="1582.32" y="912.10" font-size="22.3" textLength="27.90" lengthAdjust="spacingAndGlyphs">0.8</text>
<rect x="1632.74" y="612.40" width="233.60" height="31.80" fill="#CBCBCB"/>
<text x="1721.66" y="636.60" font-size="23.0" textLength="55.07" lengthAdjust="spacingAndGlyphs">PRAD</text>
<rect x="1689.68" y="673.98" width="6.90" height="9.00" fill="#B27FC6" stroke="#9168A2" stroke-width="0.8"/>
<rect x="1678.36" y="677.75" width="6.90" height="9.00" fill="#B27FC6" stroke="#9168A2" stroke-width="0.8"/>
<rect x="1683.89" y="677.75" width="6.90" height="9.00" fill="#B27FC6" stroke="#9168A2" stroke-width="0.8"/>
<rect x="1679.62" y="682.03" width="6.90" height="9.00" fill="#B27FC6" stroke="#9168A2" stroke-width="0.8"/>
<rect x="1677.10" y="689.57" width="6.90" height="9.00" fill="#B27FC6" stroke="#9168A2" stroke-width="0.8"/>
<rect x="1678.36" y="687.06" width="6.90" height="9.00" fill="#B27FC6" stroke="#9168A2" stroke-width="0.8"/>
<rect x="1733.19" y="675.24" width="6.90" height="9.00" fill="#B27FC6" stroke="#9168A2" stroke-width="0.8"/>
<rect x="1682.13" y="702.15" width="6.90" height="9.00" fill="#B27FC6" stroke="#9168A2" stroke-width="0.8"/>
<rect x="1740.23" y="704.41" width="6.90" height="9.00" fill="#B27FC6" stroke="#9168A2" stroke-width="0.8"/>
<rect x="1758.59" y="700.89" width="6.90" height="9.00" fill="#B27FC6" stroke="#9168A2" stroke-width="0.8"/>
<rect x="1679.12" y="822.87" width="6.90" height="9.00" fill="#B27FC6" stroke="#9168A2" stroke-width="0.8"/>
<text x="1651.41" y="663.90" font-size="19.5" textLength="175.20" lengthAdjust="spacingAndGlyphs">Rho = 0.012, p = 0.97</text>
<line x1="1631.04" y1="882.50" x2="1866.84" y2="882.50" stroke="#000" stroke-width="2.2"/>
<line x1="1642.44" y1="882.50" x2="1642.44" y2="889.00" stroke="#000" stroke-width="1.6"/>
<text x="1626.49" y="912.10" font-size="22.3" textLength="27.90" lengthAdjust="spacingAndGlyphs">0.0</text>
<line x1="1693.08" y1="882.50" x2="1693.08" y2="889.00" stroke="#000" stroke-width="1.6"/>
<text x="1677.24" y="912.10" font-size="22.3" textLength="27.90" lengthAdjust="spacingAndGlyphs">0.2</text>
<line x1="1743.72" y1="882.50" x2="1743.72" y2="889.00" stroke="#000" stroke-width="1.6"/>
<text x="1727.67" y="912.10" font-size="22.3" textLength="27.90" lengthAdjust="spacingAndGlyphs">0.4</text>
<line x1="1794.36" y1="882.50" x2="1794.36" y2="889.00" stroke="#000" stroke-width="1.6"/>
<text x="1778.46" y="912.10" font-size="22.3" textLength="27.90" lengthAdjust="spacingAndGlyphs">0.6</text>
<line x1="1845.00" y1="882.50" x2="1845.00" y2="889.00" stroke="#000" stroke-width="1.6"/>
<text x="1829.09" y="912.10" font-size="22.3" textLength="27.90" lengthAdjust="spacingAndGlyphs">0.8</text>
<rect x="1879.51" y="612.40" width="233.60" height="31.80" fill="#CBCBCB"/>
<text x="1968.11" y="636.60" font-size="23.0" textLength="57.12" lengthAdjust="spacingAndGlyphs">SKCM</text>
<rect x="1907.83" y="668.70" width="6.90" height="9.00" fill="#CF6FB3" stroke="#A95B92" stroke-width="0.8"/>
<rect x="1898.77" y="677.75" width="6.90" height="9.00" fill="#CF6FB3" stroke="#A95B92" stroke-width="0.8"/>
<rect x="1908.33" y="681.53" width="6.90" height="9.00" fill="#CF6FB3" stroke="#A95B92" stroke-width="0.8"/>
<rect x="1919.40" y="688.57" width="6.90" height="9.00" fill="#CF6FB3" stroke="#A95B92" stroke-width="0.8"/>
<rect x="1897.01" y="698.38" width="6.90" height="9.00" fill="#CF6FB3" stroke="#A95B92" stroke-width="0.8"/>
<rect x="1903.30" y="699.63" width="6.90" height="9.00" fill="#CF6FB3" stroke="#A95B92" stroke-width="0.8"/>
<rect x="1908.33" y="702.90" width="6.90" height="9.00" fill="#CF6FB3" stroke="#A95B92" stroke-width="0.8"/>
<rect x="1903.30" y="709.70" width="6.90" height="9.00" fill="#CF6FB3" stroke="#A95B92" stroke-width="0.8"/>
<rect x="1915.37" y="708.44" width="6.90" height="9.00" fill="#CF6FB3" stroke="#A95B92" stroke-width="0.8"/>
<rect x="1936.00" y="715.48" width="6.90" height="9.00" fill="#CF6FB3" stroke="#A95B92" stroke-width="0.8"/>
<rect x="1958.13" y="716.74" width="6.90" height="9.00" fill="#CF6FB3" stroke="#A95B92" stroke-width="0.8"/>
<rect x="1885.19" y="721.52" width="6.90" height="9.00" fill="#CF6FB3" stroke="#A95B92" stroke-width="0.8"/>
<rect x="1889.47" y="722.77" width="6.90" height="9.00" fill="#CF6FB3" stroke="#A95B92" stroke-width="0.8"/>
<rect x="1912.61" y="720.26" width="6.90" height="9.00" fill="#CF6FB3" stroke="#A95B92" stroke-width="0.8"/>
<rect x="1922.42" y="729.06" width="6.90" height="9.00" fill="#CF6FB3" stroke="#A95B92" stroke-width="0.8"/>
<rect x="2015.47" y="727.80" width="6.90" height="9.00" fill="#CF6FB3" stroke="#A95B92" stroke-width="0.8"/>
<rect x="1885.69" y="739.88" width="6.90" height="9.00" fill="#CF6FB3" stroke="#A95B92" stroke-width="0.8"/>
<rect x="1941.78" y="742.39" width="6.90" height="9.00" fill="#CF6FB3" stroke="#A95B92" stroke-width="0.8"/>
<rect x="1950.58" y="748.43" width="6.90" height="9.00" fill="#CF6FB3" stroke="#A95B92" stroke-width="0.8"/>
<rect x="1960.90" y="737.36" width="6.90" height="9.00" fill="#CF6FB3" stroke="#A95B92" stroke-width="0.8"/>
<rect x="1924.68" y="750.69" width="6.90" height="9.00" fill="#CF6FB3" stroke="#A95B92" stroke-width="0.8"/>
<rect x="1926.19" y="760.50" width="6.90" height="9.00" fill="#CF6FB3" stroke="#A95B92" stroke-width="0.8"/>
<rect x="1908.58" y="757.23" width="6.90" height="9.00" fill="#CF6FB3" stroke="#A95B92" stroke-width="0.8"/>
<rect x="1898.77" y="768.05" width="6.90" height="9.00" fill="#CF6FB3" stroke="#A95B92" stroke-width="0.8"/>
<rect x="1982.27" y="769.30" width="6.90" height="9.00" fill="#CF6FB3" stroke="#A95B92" stroke-width="0.8"/>
<rect x="1908.58" y="787.41" width="6.90" height="9.00" fill="#CF6FB3" stroke="#A95B92" stroke-width="0.8"/>
<rect x="1917.89" y="785.40" width="6.90" height="9.00" fill="#CF6FB3" stroke="#A95B92" stroke-width="0.8"/>
<rect x="1897.77" y="793.70" width="6.90" height="9.00" fill="#CF6FB3" stroke="#A95B92" stroke-width="0.8"/>
<rect x="1955.36" y="797.22" width="6.90" height="9.00" fill="#CF6FB3" stroke="#A95B92" stroke-width="0.8"/>
<rect x="1901.29" y="831.17" width="6.90" height="9.00" fill="#CF6FB3" stroke="#A95B92" stroke-width="0.8"/>
<text x="1897.70" y="663.90" font-size="19.5" textLength="177.87" lengthAdjust="spacingAndGlyphs">Rho = −0.22, p = 0.25</text>
<line x1="1877.81" y1="882.50" x2="2113.61" y2="882.50" stroke="#000" stroke-width="2.2"/>
<line x1="1889.21" y1="882.50" x2="1889.21" y2="889.00" stroke="#000" stroke-width="1.6"/>
<text x="1873.26" y="912.10" font-size="22.3" textLength="27.90" lengthAdjust="spacingAndGlyphs">0.0</text>
<line x1="1939.85" y1="882.50" x2="1939.85" y2="889.00" stroke="#000" stroke-width="1.6"/>
<text x="1924.01" y="912.10" font-size="22.3" textLength="27.90" lengthAdjust="spacingAndGlyphs">0.2</text>
<line x1="1990.49" y1="882.50" x2="1990.49" y2="889.00" stroke="#000" stroke-width="1.6"/>
<text x="1974.44" y="912.10" font-size="22.3" textLength="27.90" lengthAdjust="spacingAndGlyphs">0.4</text>
<line x1="2041.13" y1="882.50" x2="2041.13" y2="889.00" stroke="#000" stroke-width="1.6"/>
<text x="2025.23" y="912.10" font-size="22.3" textLength="27.90" lengthAdjust="spacingAndGlyphs">0.6</text>
<line x1="2091.77" y1="882.50" x2="2091.77" y2="889.00" stroke="#000" stroke-width="1.6"/>
<text x="2075.86" y="912.10" font-size="22.3" textLength="27.90" lengthAdjust="spacingAndGlyphs">0.8</text>
<rect x="1139.20" y="920.20" width="233.60" height="31.40" fill="#CBCBCB"/>
<text x="1229.05" y="944.40" font-size="23.0" textLength="53.16" lengthAdjust="spacingAndGlyphs">UCEC</text>
<rect x="1173.71" y="1001.14" width="6.90" height="9.00" fill="#E66CA3" stroke="#BC5885" stroke-width="0.8"/>
<rect x="1156.73" y="1012.21" width="6.90" height="9.00" fill="#E66CA3" stroke="#BC5885" stroke-width="0.8"/>
<rect x="1171.44" y="1017.24" width="6.90" height="9.00" fill="#E66CA3" stroke="#BC5885" stroke-width="0.8"/>
<rect x="1201.63" y="1017.24" width="6.90" height="9.00" fill="#E66CA3" stroke="#BC5885" stroke-width="0.8"/>
<rect x="1215.46" y="1012.21" width="6.90" height="9.00" fill="#E66CA3" stroke="#BC5885" stroke-width="0.8"/>
<rect x="1219.61" y="1027.05" width="6.90" height="9.00" fill="#E66CA3" stroke="#BC5885" stroke-width="0.8"/>
<rect x="1143.90" y="1037.99" width="6.90" height="9.00" fill="#E66CA3" stroke="#BC5885" stroke-width="0.8"/>
<rect x="1286.89" y="1043.02" width="6.90" height="9.00" fill="#E66CA3" stroke="#BC5885" stroke-width="0.8"/>
<rect x="1162.77" y="1049.94" width="6.90" height="9.00" fill="#E66CA3" stroke="#BC5885" stroke-width="0.8"/>
<rect x="1172.07" y="1051.19" width="6.90" height="9.00" fill="#E66CA3" stroke="#BC5885" stroke-width="0.8"/>
<rect x="1188.55" y="1056.22" width="6.90" height="9.00" fill="#E66CA3" stroke="#BC5885" stroke-width="0.8"/>
<rect x="1229.04" y="1058.74" width="6.90" height="9.00" fill="#E66CA3" stroke="#BC5885" stroke-width="0.8"/>
<rect x="1248.28" y="1053.71" width="6.90" height="9.00" fill="#E66CA3" stroke="#BC5885" stroke-width="0.8"/>
<rect x="1144.78" y="1056.22" width="6.90" height="9.00" fill="#E66CA3" stroke="#BC5885" stroke-width="0.8"/>
<rect x="1143.53" y="1065.03" width="6.90" height="9.00" fill="#E66CA3" stroke="#BC5885" stroke-width="0.8"/>
<rect x="1165.53" y="1068.17" width="6.90" height="9.00" fill="#E66CA3" stroke="#BC5885" stroke-width="0.8"/>
<rect x="1163.02" y="1073.20" width="6.90" height="9.00" fill="#E66CA3" stroke="#BC5885" stroke-width="0.8"/>
<rect x="1168.93" y="1082.00" width="6.90" height="9.00" fill="#E66CA3" stroke="#BC5885" stroke-width="0.8"/>
<rect x="1162.64" y="1101.24" width="6.90" height="9.00" fill="#E66CA3" stroke="#BC5885" stroke-width="0.8"/>
<rect x="1188.17" y="1098.73" width="6.90" height="9.00" fill="#E66CA3" stroke="#BC5885" stroke-width="0.8"/>
<rect x="1144.41" y="1108.79" width="6.90" height="9.00" fill="#E66CA3" stroke="#BC5885" stroke-width="0.8"/>
<rect x="1143.65" y="1000.51" width="6.90" height="22.09" fill="#E66CA3" stroke="#BC5885" stroke-width="0.8"/>
<rect x="1144.15" y="1145.20" width="6.90" height="9.00" fill="#E66CA3" stroke="#BC5885" stroke-width="0.8"/>
<rect x="1143.75" y="1161.30" width="6.90" height="9.00" fill="#E66CA3" stroke="#BC5885" stroke-width="0.8"/>
<text x="1153.71" y="971.40" font-size="19.5" textLength="165.50" lengthAdjust="spacingAndGlyphs">Rho = 0.13, p = 0.52</text>
<line x1="1138.60" y1="951.60" x2="1138.60" y2="1190.90" stroke="#000" stroke-width="2.2"/>
<line x1="1132.20" y1="1145.70" x2="1138.60" y2="1145.70" stroke="#000" stroke-width="1.6"/>
<text x="1082.23" y="1154.10" font-size="21.9" textLength="39.21" lengthAdjust="spacingAndGlyphs">0.25</text>
<line x1="1132.20" y1="1084.70" x2="1138.60" y2="1084.70" stroke="#000" stroke-width="1.6"/>
<text x="1082.17" y="1093.10" font-size="21.9" textLength="39.21" lengthAdjust="spacingAndGlyphs">0.50</text>
<line x1="1132.20" y1="1023.70" x2="1138.60" y2="1023.70" stroke="#000" stroke-width="1.6"/>
<text x="1082.23" y="1032.10" font-size="21.9" textLength="39.21" lengthAdjust="spacingAndGlyphs">0.75</text>
<line x1="1132.20" y1="962.70" x2="1138.60" y2="962.70" stroke="#000" stroke-width="1.6"/>
<text x="1082.17" y="971.10" font-size="21.9" textLength="39.21" lengthAdjust="spacingAndGlyphs">1.00</text>
<line x1="1137.50" y1="1189.90" x2="1373.30" y2="1189.90" stroke="#000" stroke-width="2.2"/>
<line x1="1148.90" y1="1189.90" x2="1148.90" y2="1196.40" stroke="#000" stroke-width="1.6"/>
<text x="1132.95" y="1219.50" font-size="22.3" textLength="27.90" lengthAdjust="spacingAndGlyphs">0.0</text>
<line x1="1199.54" y1="1189.90" x2="1199.54" y2="1196.40" stroke="#000" stroke-width="1.6"/>
<text x="1183.70" y="1219.50" font-size="22.3" textLength="27.90" lengthAdjust="spacingAndGlyphs">0.2</text>
<line x1="1250.18" y1="1189.90" x2="1250.18" y2="1196.40" stroke="#000" stroke-width="1.6"/>
<text x="1234.13" y="1219.50" font-size="22.3" textLength="27.90" lengthAdjust="spacingAndGlyphs">0.4</text>
<line x1="1300.82" y1="1189.90" x2="1300.82" y2="1196.40" stroke="#000" stroke-width="1.6"/>
<text x="1284.92" y="1219.50" font-size="22.3" textLength="27.90" lengthAdjust="spacingAndGlyphs">0.6</text>
<line x1="1351.46" y1="1189.90" x2="1351.46" y2="1196.40" stroke="#000" stroke-width="1.6"/>
<text x="1335.55" y="1219.50" font-size="22.3" textLength="27.90" lengthAdjust="spacingAndGlyphs">0.8</text>
<text x="1423.28" y="1244.70" font-size="25.0" textLength="406.91" lengthAdjust="spacingAndGlyphs">Subclonal SCNA - Proportion of Genome</text>
<g transform="translate(1074.4,706.5) rotate(-90)">
<text x="-2.02" y="0.00" font-size="24.5" textLength="150.77" lengthAdjust="spacingAndGlyphs">Median Purity</text>
</g>
<line x1="110.90" y1="1894.31" x2="637.50" y2="1345.18" stroke="#C8C8C8" stroke-width="4.6" stroke-dasharray="17.5 17.7"/>
<line x1="293.50" y1="1431.30" x2="371.30" y2="1431.30" stroke="#C6C6C6" stroke-width="3.3"/>
<line x1="332.00" y1="1392.10" x2="332.00" y2="1470.50" stroke="#C6C6C6" stroke-width="3.3"/>
<line x1="319.20" y1="1484.10" x2="359.20" y2="1484.10" stroke="#C6C6C6" stroke-width="3.3"/>
<line x1="340.30" y1="1463.70" x2="340.30" y2="1505.20" stroke="#C6C6C6" stroke-width="3.3"/>
<line x1="267.00" y1="1561.10" x2="289.00" y2="1561.10" stroke="#C6C6C6" stroke-width="3.3"/>
<line x1="277.70" y1="1549.00" x2="277.70" y2="1574.00" stroke="#C6C6C6" stroke-width="3.3"/>
<line x1="191.50" y1="1614.30" x2="259.10" y2="1614.30" stroke="#C6C6C6" stroke-width="3.3"/>
<line x1="225.60" y1="1545.20" x2="225.60" y2="1683.10" stroke="#C6C6C6" stroke-width="3.3"/>
<line x1="197.50" y1="1635.50" x2="234.90" y2="1635.50" stroke="#C6C6C6" stroke-width="3.3"/>
<line x1="215.90" y1="1616.70" x2="215.90" y2="1655.00" stroke="#C6C6C6" stroke-width="3.3"/>
<line x1="245.20" y1="1643.90" x2="290.00" y2="1643.90" stroke="#C6C6C6" stroke-width="3.3"/>
<line x1="277.80" y1="1618.60" x2="277.80" y2="1655.40" stroke="#C6C6C6" stroke-width="3.3"/>
<line x1="263.30" y1="1646.90" x2="334.50" y2="1646.90" stroke="#C6C6C6" stroke-width="3.3"/>
<line x1="298.30" y1="1601.00" x2="298.30" y2="1692.80" stroke="#C6C6C6" stroke-width="3.3"/>
<line x1="321.90" y1="1602.50" x2="379.20" y2="1602.50" stroke="#C6C6C6" stroke-width="3.3"/>
<line x1="350.60" y1="1589.00" x2="350.60" y2="1619.20" stroke="#C6C6C6" stroke-width="3.3"/>
<line x1="308.60" y1="1683.30" x2="382.20" y2="1683.30" stroke="#C6C6C6" stroke-width="3.3"/>
<line x1="345.20" y1="1650.50" x2="345.20" y2="1714.50" stroke="#C6C6C6" stroke-width="3.3"/>
<line x1="368.00" y1="1703.00" x2="432.90" y2="1703.00" stroke="#C6C6C6" stroke-width="3.3"/>
<line x1="400.30" y1="1681.90" x2="400.30" y2="1719.80" stroke="#C6C6C6" stroke-width="3.3"/>
<line x1="214.70" y1="1738.00" x2="272.20" y2="1738.00" stroke="#C6C6C6" stroke-width="3.3"/>
<line x1="243.30" y1="1726.30" x2="243.30" y2="1752.50" stroke="#C6C6C6" stroke-width="3.3"/>
<line x1="170.60" y1="1765.30" x2="219.30" y2="1765.30" stroke="#C6C6C6" stroke-width="3.3"/>
<line x1="195.00" y1="1739.80" x2="195.00" y2="1791.50" stroke="#C6C6C6" stroke-width="3.3"/>
<line x1="240.10" y1="1775.20" x2="288.50" y2="1775.20" stroke="#C6C6C6" stroke-width="3.3"/>
<line x1="264.50" y1="1762.00" x2="264.50" y2="1790.00" stroke="#C6C6C6" stroke-width="3.3"/>
<line x1="240.10" y1="1800.20" x2="283.60" y2="1800.20" stroke="#C6C6C6" stroke-width="3.3"/>
<line x1="262.00" y1="1791.50" x2="262.00" y2="1809.60" stroke="#C6C6C6" stroke-width="3.3"/>
<circle cx="332.00" cy="1431.30" r="8.30" fill="#E8705A" fill-opacity="0.9"/>
<circle cx="340.30" cy="1484.10" r="10.20" fill="#E8705A" fill-opacity="0.9"/>
<circle cx="277.70" cy="1561.10" r="15.80" fill="#E8705A" fill-opacity="0.9"/>
<circle cx="225.60" cy="1614.30" r="3.70" fill="#665F5F" fill-opacity="0.95" stroke="#4B4646" stroke-width="1.1"/>
<circle cx="215.90" cy="1635.50" r="10.00" fill="#E8705A" fill-opacity="0.9"/>
<circle cx="277.80" cy="1643.90" r="6.00" fill="#665F5F" fill-opacity="0.95" stroke="#4B4646" stroke-width="1.1"/>
<circle cx="298.30" cy="1646.90" r="8.30" fill="#665F5F" fill-opacity="0.95" stroke="#4B4646" stroke-width="1.1"/>
<circle cx="350.60" cy="1602.50" r="8.10" fill="#665F5F" fill-opacity="0.95" stroke="#4B4646" stroke-width="1.1"/>
<circle cx="345.20" cy="1683.30" r="9.20" fill="#665F5F" fill-opacity="0.95" stroke="#4B4646" stroke-width="1.1"/>
<circle cx="400.30" cy="1703.00" r="7.20" fill="#E8705A" fill-opacity="0.9"/>
<circle cx="243.30" cy="1738.00" r="9.50" fill="#665F5F" fill-opacity="0.95" stroke="#4B4646" stroke-width="1.1"/>
<circle cx="195.00" cy="1765.30" r="9.70" fill="#665F5F" fill-opacity="0.95" stroke="#4B4646" stroke-width="1.1"/>
<circle cx="264.50" cy="1775.20" r="13.00" fill="#665F5F" fill-opacity="0.95" stroke="#4B4646" stroke-width="1.1"/>
<circle cx="262.00" cy="1800.20" r="6.70" fill="#665F5F" fill-opacity="0.95" stroke="#4B4646" stroke-width="1.1"/>
<text x="235.82" y="1454.70" font-size="20.0" textLength="75.12" lengthAdjust="spacingAndGlyphs">TN BRCA</text>
<text x="349.00" y="1486.40" font-size="20.0" textLength="45.55" lengthAdjust="spacingAndGlyphs">LUSC</text>
<text x="231.66" y="1552.50" font-size="20.0" textLength="49.93" lengthAdjust="spacingAndGlyphs">LUAD</text>
<text x="171.38" y="1605.60" font-size="20.0" textLength="58.68" lengthAdjust="spacingAndGlyphs">NSCLC</text>
<text x="299.67" y="1594.00" font-size="20.0" textLength="110.07" lengthAdjust="spacingAndGlyphs">HER2+ BRCA</text>
<text x="265.43" y="1635.30" font-size="20.0" textLength="49.62" lengthAdjust="spacingAndGlyphs" fill="#6E6E6E">PRAD</text>
<text x="167.29" y="1659.40" font-size="20.0" textLength="51.26" lengthAdjust="spacingAndGlyphs">SKCM</text>
<text x="265.10" y="1671.20" font-size="20.0" textLength="85.63" lengthAdjust="spacingAndGlyphs">ER+ BRCA</text>
<text x="298.04" y="1707.00" font-size="20.0" textLength="45.19" lengthAdjust="spacingAndGlyphs">ESCA</text>
<text x="388.27" y="1734.10" font-size="20.0" textLength="53.11" lengthAdjust="spacingAndGlyphs">COAD</text>
<text x="228.07" y="1724.80" font-size="20.0" textLength="45.67" lengthAdjust="spacingAndGlyphs">BLCA</text>
<text x="252.04" y="1766.50" font-size="20.0" textLength="39.70" lengthAdjust="spacingAndGlyphs">KIRC</text>
<text x="146.15" y="1789.00" font-size="20.0" textLength="49.62" lengthAdjust="spacingAndGlyphs">UCEC</text>
<text x="222.01" y="1824.10" font-size="20.0" textLength="62.39" lengthAdjust="spacingAndGlyphs">Glioma</text>
<line x1="110.60" y1="1346.50" x2="110.60" y2="1894.60" stroke="#000" stroke-width="2.2"/>
<line x1="109.50" y1="1893.50" x2="637.50" y2="1893.50" stroke="#000" stroke-width="2.2"/>
<line x1="102.10" y1="1869.80" x2="110.60" y2="1869.80" stroke="#000" stroke-width="1.8"/>
<text x="56.68" y="1878.00" font-size="22.6" textLength="30.47" lengthAdjust="spacingAndGlyphs">0.0</text>
<line x1="134.40" y1="1893.50" x2="134.40" y2="1902.00" stroke="#000" stroke-width="1.8"/>
<text x="114.96" y="1930.00" font-size="22.6" textLength="30.47" lengthAdjust="spacingAndGlyphs">0.0</text>
<line x1="102.10" y1="1704.00" x2="110.60" y2="1704.00" stroke="#000" stroke-width="1.8"/>
<text x="56.93" y="1712.20" font-size="22.6" textLength="30.47" lengthAdjust="spacingAndGlyphs">0.2</text>
<line x1="293.40" y1="1893.50" x2="293.40" y2="1902.00" stroke="#000" stroke-width="1.8"/>
<text x="274.09" y="1930.00" font-size="22.6" textLength="30.47" lengthAdjust="spacingAndGlyphs">0.2</text>
<line x1="102.10" y1="1538.20" x2="110.60" y2="1538.20" stroke="#000" stroke-width="1.8"/>
<text x="56.47" y="1546.40" font-size="22.6" textLength="30.47" lengthAdjust="spacingAndGlyphs">0.4</text>
<line x1="452.40" y1="1893.50" x2="452.40" y2="1902.00" stroke="#000" stroke-width="1.8"/>
<text x="432.86" y="1930.00" font-size="22.6" textLength="30.47" lengthAdjust="spacingAndGlyphs">0.4</text>
<line x1="102.10" y1="1372.40" x2="110.60" y2="1372.40" stroke="#000" stroke-width="1.8"/>
<text x="56.79" y="1380.60" font-size="22.6" textLength="30.47" lengthAdjust="spacingAndGlyphs">0.6</text>
<line x1="611.40" y1="1893.50" x2="611.40" y2="1902.00" stroke="#000" stroke-width="1.8"/>
<text x="592.02" y="1930.00" font-size="22.6" textLength="30.47" lengthAdjust="spacingAndGlyphs">0.6</text>
<text x="121.45" y="1961.70" font-size="25.0" textLength="503.58" lengthAdjust="spacingAndGlyphs">Subclonal SCNA - Median Proportion of Genome</text>
<g transform="translate(44.6,1852.4) rotate(-90)">
<text x="-1.17" y="0.00" font-size="25.0" textLength="465.90" lengthAdjust="spacingAndGlyphs">Clonal SCNA - Median Proportion of Genome</text>
</g>
<text x="652.08" y="1506.00" font-size="18.5" textLength="169.44" lengthAdjust="spacingAndGlyphs">Number of tumours</text>
<circle cx="730.90" cy="1534.40" r="8.50" fill="#585353"/>
<text x="757.72" y="1544.20" font-size="19.0" textLength="21.64" lengthAdjust="spacingAndGlyphs">20</text>
<circle cx="730.90" cy="1568.00" r="11.80" fill="#585353"/>
<text x="758.27" y="1577.90" font-size="19.0" textLength="21.07" lengthAdjust="spacingAndGlyphs">40</text>
<circle cx="730.90" cy="1601.90" r="13.90" fill="#585353"/>
<text x="757.71" y="1611.60" font-size="19.0" textLength="21.65" lengthAdjust="spacingAndGlyphs">60</text>
<circle cx="730.90" cy="1638.10" r="15.60" fill="#585353"/>
<text x="757.86" y="1647.90" font-size="19.0" textLength="21.49" lengthAdjust="spacingAndGlyphs">80</text>
<circle cx="673.20" cy="1724.60" r="5.20" fill="#EE8373"/>
<text x="687.73" y="1698.70" font-size="19.0" textLength="78.87" lengthAdjust="spacingAndGlyphs">Clonal vs</text>
<text x="688.14" y="1723.60" font-size="19.0" textLength="84.80" lengthAdjust="spacingAndGlyphs">subclonal</text>
<text x="688.26" y="1748.30" font-size="19.0" textLength="151.21" lengthAdjust="spacingAndGlyphs">Two-sided paired</text>
<text x="688.39" y="1772.90" font-size="19.0" textLength="45.46" lengthAdjust="spacingAndGlyphs">t-test</text>
<text x="687.14" y="1798.40" font-size="19.0">P-value &lt; 0.05</text>
<line x1="1082.00" y1="1380.40" x2="1082.00" y2="1617.50" stroke="#000" stroke-width="2.5"/>
<line x1="1358.20" y1="1380.40" x2="1358.20" y2="1617.50" stroke="#000" stroke-width="2.5"/>
<line x1="1485.60" y1="1380.40" x2="1485.60" y2="1617.50" stroke="#000" stroke-width="2.5"/>
<line x1="1612.50" y1="1380.40" x2="1612.50" y2="1617.50" stroke="#000" stroke-width="2.5"/>
<line x1="1740.10" y1="1380.40" x2="1740.10" y2="1617.50" stroke="#000" stroke-width="2.5"/>
<line x1="1867.90" y1="1380.40" x2="1867.90" y2="1617.50" stroke="#000" stroke-width="2.5"/>
<line x1="2081.50" y1="1380.40" x2="2081.50" y2="1617.50" stroke="#000" stroke-width="2.5"/>
<line x1="1080.80" y1="1381.60" x2="2082.70" y2="1381.60" stroke="#000" stroke-width="2.5"/>
<line x1="1080.80" y1="1411.10" x2="2082.70" y2="1411.10" stroke="#000" stroke-width="2.5"/>
<line x1="1080.80" y1="1440.60" x2="2082.70" y2="1440.60" stroke="#000" stroke-width="2.5"/>
<line x1="1080.80" y1="1470.10" x2="2082.70" y2="1470.10" stroke="#000" stroke-width="2.5"/>
<line x1="1080.80" y1="1500.00" x2="2082.70" y2="1500.00" stroke="#000" stroke-width="2.5"/>
<line x1="1080.80" y1="1529.60" x2="2082.70" y2="1529.60" stroke="#000" stroke-width="2.5"/>
<line x1="1080.80" y1="1559.10" x2="2082.70" y2="1559.10" stroke="#000" stroke-width="2.5"/>
<line x1="1080.80" y1="1588.70" x2="2082.70" y2="1588.70" stroke="#000" stroke-width="2.5"/>
<line x1="1080.80" y1="1616.30" x2="2082.70" y2="1616.30" stroke="#000" stroke-width="2.5"/>
<text x="1086.79" y="1404.00" font-size="19.8" textLength="113.62" lengthAdjust="spacing">Coefficients</text>
<text x="1362.38" y="1404.00" font-size="19.8" textLength="87.40" lengthAdjust="spacing">Estimate</text>
<text x="1490.50" y="1404.00" font-size="19.8" textLength="92.03" lengthAdjust="spacing">Std. Error</text>
<text x="1618.00" y="1404.00" font-size="19.8" textLength="66.08" lengthAdjust="spacing">t value</text>
<text x="1744.28" y="1404.00" font-size="19.8" textLength="80.15" lengthAdjust="spacing">Pr(&gt;|t|)</text>
<text x="1872.80" y="1404.00" font-size="19.8" textLength="183.81" lengthAdjust="spacing">Significance Status</text>
<text x="1086.57" y="1433.50" font-size="19.8" textLength="103.56" lengthAdjust="spacing">(Intercept)</text>
<text x="1401.99" y="1433.50" font-size="19.8" textLength="78.59" lengthAdjust="spacing">0.40924</text>
<text x="1529.28" y="1433.50" font-size="19.8" textLength="78.56" lengthAdjust="spacing">0.08359</text>
<text x="1681.00" y="1433.50" font-size="19.8" textLength="54.37" lengthAdjust="spacing">4.896</text>
<text x="1772.17" y="1433.50" font-size="19.8" textLength="90.71" lengthAdjust="spacing">0.000004</text>
<text x="1874.26" y="1435.50" font-size="27.0" letter-spacing="1.6">***</text>
<text x="1086.79" y="1463.00" font-size="19.8" textLength="178.75" lengthAdjust="spacing">Cancer type: LUAD</text>
<text x="1395.14" y="1463.00" font-size="19.8" textLength="85.80" lengthAdjust="spacing">-0.17219</text>
<text x="1529.21" y="1463.00" font-size="19.8" textLength="78.56" lengthAdjust="spacing">0.05933</text>
<text x="1673.93" y="1463.00" font-size="19.8" textLength="61.57" lengthAdjust="spacing">-2.902</text>
<text x="1772.17" y="1463.00" font-size="19.8" textLength="90.71" lengthAdjust="spacing">0.004604</text>
<text x="1874.26" y="1465.00" font-size="27.0" letter-spacing="1.6">**</text>
<text x="1086.90" y="1492.50" font-size="19.8" textLength="167.73" lengthAdjust="spacing">Sample count: &gt;5</text>
<text x="1407.18" y="1492.50" font-size="19.8" textLength="73.69" lengthAdjust="spacing">-0.0636</text>
<text x="1529.16" y="1492.50" font-size="19.8" textLength="78.57" lengthAdjust="spacing">0.10205</text>
<text x="1673.79" y="1492.50" font-size="19.8" textLength="61.58" lengthAdjust="spacing">-0.623</text>
<text x="1784.71" y="1492.50" font-size="19.8" textLength="78.56" lengthAdjust="spacing">0.53461</text>
<text x="1086.90" y="1522.40" font-size="19.8" textLength="155.37" lengthAdjust="spacing">Sample count: 3</text>
<text x="1402.41" y="1522.40" font-size="19.8" textLength="78.56" lengthAdjust="spacing">0.13471</text>
<text x="1529.21" y="1522.40" font-size="19.8" textLength="78.56" lengthAdjust="spacing">0.05853</text>
<text x="1681.16" y="1522.40" font-size="19.8" textLength="54.31" lengthAdjust="spacing">2.301</text>
<text x="1772.17" y="1522.40" font-size="19.8" textLength="90.71" lengthAdjust="spacing">0.023554</text>
<text x="1874.26" y="1524.40" font-size="27.0" letter-spacing="1.6">*</text>
<text x="1086.90" y="1552.00" font-size="19.8" textLength="155.08" lengthAdjust="spacing">Sample count: 4</text>
<text x="1402.29" y="1552.00" font-size="19.8" textLength="78.57" lengthAdjust="spacing">0.19208</text>
<text x="1529.34" y="1552.00" font-size="19.8" textLength="78.55" lengthAdjust="spacing">0.05467</text>
<text x="1680.71" y="1552.00" font-size="19.8" textLength="54.37" lengthAdjust="spacing">3.514</text>
<text x="1772.57" y="1552.00" font-size="19.8" textLength="90.67" lengthAdjust="spacing">0.000679</text>
<text x="1874.26" y="1554.00" font-size="27.0" letter-spacing="1.6">***</text>
<text x="1086.90" y="1581.50" font-size="19.8" textLength="155.33" lengthAdjust="spacing">Sample count: 5</text>
<text x="1414.56" y="1581.50" font-size="19.8" textLength="66.44" lengthAdjust="spacing">0.0797</text>
<text x="1529.28" y="1581.50" font-size="19.8" textLength="78.56" lengthAdjust="spacing">0.09929</text>
<text x="1681.03" y="1581.50" font-size="19.8" textLength="54.34" lengthAdjust="spacing">0.803</text>
<text x="1772.60" y="1581.50" font-size="19.8" textLength="90.67" lengthAdjust="spacing">0.424141</text>
<text x="1086.18" y="1611.10" font-size="19.8" textLength="135.26" lengthAdjust="spacing">Median purity</text>
<text x="1402.31" y="1611.10" font-size="19.8" textLength="78.56" lengthAdjust="spacing">0.08823</text>
<text x="1529.21" y="1611.10" font-size="19.8" textLength="78.56" lengthAdjust="spacing">0.12853</text>
<text x="1681.03" y="1611.10" font-size="19.8" textLength="54.34" lengthAdjust="spacing">0.686</text>
<text x="1772.48" y="1611.10" font-size="19.8" textLength="90.68" lengthAdjust="spacing">0.494138</text>
<text x="1086.68" y="1639.90" font-size="19.8" textLength="616.82" lengthAdjust="spacing" xml:space="preserve">Reference cancer type: BRCA HER2+; Reference sample count: 2</text>
<text x="1087.40" y="1668.80" font-size="19.8" textLength="527.47" lengthAdjust="spacing" xml:space="preserve">Signif. codes:  0 ‘***’ 0.001 ‘**’ 0.01 ‘*’ 0.05 ‘.’ 0.1 ‘ ’ 1</text>
<text x="1086.68" y="1698.30" font-size="19.8" textLength="557.43" lengthAdjust="spacing" xml:space="preserve">Residual standard error: 0.1915 on 95 degrees of freedom</text>
<text x="1086.68" y="1727.60" font-size="19.8" textLength="547.99" lengthAdjust="spacing" xml:space="preserve">Multiple R-squared:  0.1841, Adjusted R-squared:  0.1326</text>
<text x="1086.68" y="1756.60" font-size="19.8" textLength="498.86" lengthAdjust="spacing" xml:space="preserve">F-statistic: 3.573 on 6 and 95 DF,  p-value: 0.003095</text>
</svg>
</body></html>
